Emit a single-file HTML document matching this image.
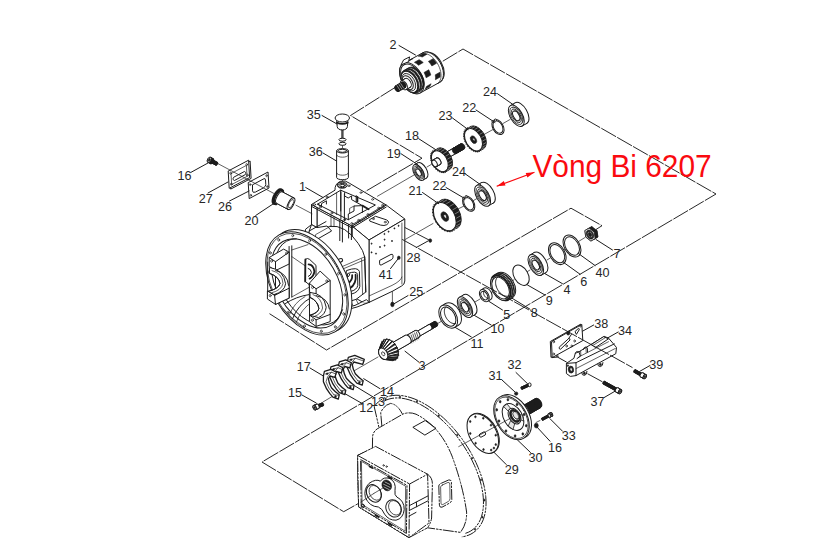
<!DOCTYPE html>
<html lang="vi">
<head>
<meta charset="utf-8">
<title>Vòng Bi 6207</title>
<style>
html,body{margin:0;padding:0;background:#fff}
body{width:831px;height:554px;overflow:hidden;font-family:"Liberation Sans",sans-serif}
svg{display:block}
.l{fill:none;stroke:#1c1c1c;stroke-width:1;stroke-linecap:round;stroke-linejoin:round}
.t{fill:none;stroke:#1c1c1c;stroke-width:.7;stroke-linecap:round;stroke-linejoin:round}
.w{fill:#fff;stroke:#1c1c1c;stroke-width:1;stroke-linejoin:round}
.w2{fill:#fff;stroke:#1c1c1c;stroke-width:1.3;stroke-linejoin:round}
.wt{fill:#fff;stroke:#1c1c1c;stroke-width:.7;stroke-linejoin:round}
.g{fill:#e6e6e6;stroke:#1c1c1c;stroke-width:.8;stroke-linejoin:round}
.nos{stroke:none}
.k{fill:#1c1c1c;stroke:#1c1c1c;stroke-width:.6;stroke-linejoin:round}
.b{fill:none;stroke:#1c1c1c;stroke-width:1.8;stroke-linecap:round;stroke-linejoin:round}
.bb{fill:none;stroke:#1c1c1c;stroke-width:2.6;stroke-linecap:butt}
.d{fill:none;stroke:#1c1c1c;stroke-width:.95;stroke-dasharray:17 1.3}
.p{fill:none;stroke:#1c1c1c;stroke-width:1;stroke-dasharray:11 1 2.4 1 2.4 1;stroke-linejoin:round}
.pw{fill:#fff;stroke:#1c1c1c;stroke-width:1;stroke-dasharray:11 1 2.4 1 2.4 1;stroke-linejoin:round}
.n{font-family:"Liberation Sans",sans-serif;font-size:12.6px;fill:#262626;text-anchor:middle}
.r{fill:none;stroke:#fa0a0f;stroke-width:1.2}
.rf{fill:#fa0a0f;stroke:none}
.rt{font-family:"Liberation Sans",sans-serif;font-size:29.85px;fill:#fa0a0f}
</style>
</head>
<body>
<svg width="831" height="554" viewBox="0 0 831 554">
<rect x="0" y="0" width="831" height="554" fill="#fff"/>
<path class="d" d="M442.8 61.2 L463 49 L716 194 L262 462 L343.7 511.7 L361 502"/>
<path class="d" d="M395 87.5 L350.5 115.5 L422 158.2 L365.3 191.5"/>
<path class="d" d="M269.5 313.7 L326.5 350 L571 208.2 L602 225.7 L596 229.5"/>
<line class="d" x1="587.5" y1="373.7" x2="603.7" y2="382.5"/>
<line class="d" x1="400" y1="225" x2="430" y2="240.5"/>
<line class="t" x1="377.5" y1="196.2" x2="414" y2="175"/>
<line class="t" x1="427" y1="167" x2="432" y2="164"/>
<line class="t" x1="484" y1="134.5" x2="493" y2="129.5"/>
<line class="t" x1="503" y1="123.5" x2="510" y2="119.5"/>
<line class="t" x1="403.4" y1="240.5" x2="433" y2="223.5"/>
<line class="t" x1="457" y1="209.5" x2="464" y2="206"/>
<line class="t" x1="473.5" y1="200.5" x2="477" y2="198.5"/>
<line class="t" x1="342.5" y1="128" x2="342.5" y2="186"/>
<line class="t" x1="437" y1="324" x2="441" y2="321.5"/>
<line class="t" x1="457" y1="312.5" x2="461" y2="310.2"/>
<line class="t" x1="475" y1="302" x2="480" y2="299"/>
<line class="t" x1="489" y1="294" x2="493" y2="291.5"/>
<line class="t" x1="512" y1="281" x2="514" y2="279.8"/>
<line class="t" x1="527.5" y1="271.5" x2="530" y2="270"/>
<line class="t" x1="547" y1="260" x2="550" y2="258.2"/>
<line class="t" x1="564" y1="250" x2="565.5" y2="249"/>
<line class="t" x1="578.5" y1="241.5" x2="585" y2="237.5"/>
<line class="t" x1="378" y1="357" x2="352" y2="372"/>
<line class="t" x1="333" y1="396" x2="323" y2="402"/>
<line class="t" x1="540" y1="420.5" x2="536" y2="422.5"/>
<line class="t" x1="392.4" y1="289.7" x2="392.4" y2="302.5"/>
<path class="w nos" d="M375.4 407.8 L379.6 427.6 L372.4 436 L372.2 448 L400 470 L470 533 L461.82 536.89 L461.82 536.89 L465.06 536.29 L468.11 535.35 L470.96 534.08 L473.6 532.47 L476.01 530.54 L478.19 528.3 L480.12 525.75 L481.78 522.91 L483.19 519.8 L484.32 516.43 L485.17 512.81 L485.74 508.97 L486.02 504.91 L486.02 500.67 L485.73 496.26 L485.16 491.7 L484.3 487.02 L483.16 482.24 L481.76 477.38 L480.08 472.46 L478.15 467.52 L475.97 462.57 L473.56 457.63 L470.91 452.74 L468.06 447.91 L465 443.18 L461.77 438.55 L458.36 434.06 L454.8 429.73 L451.11 425.57 L447.3 421.61 L443.39 417.87 L439.4 414.36 L435.35 411.11 L431.27 408.12 L427.16 405.42 L423.06 403.02 L418.97 400.92 L414.93 399.14 L410.94 397.69 L407.04 396.57 L403.23 395.79 L399.54 395.35 L395.98 395.26 L392.58 395.51 L389.34 396.11 L386.29 397.05 L383.44 398.32 L380.8 399.93 L378.39 401.86 L376.21 404.1 L374.28 406.65 Z"/>
<path class="p" d="M374.28 406.65 L376.21 404.1 L378.39 401.86 L380.8 399.93 L383.44 398.32 L386.29 397.05 L389.34 396.11 L392.58 395.51 L395.98 395.26 L399.54 395.35 L403.23 395.79 L407.04 396.57 L410.94 397.69 L414.93 399.14 L418.97 400.92 L423.06 403.02 L427.16 405.42 L431.27 408.12 L435.35 411.11 L439.4 414.36 L443.39 417.87 L447.3 421.61 L451.11 425.57 L454.8 429.73 L458.36 434.06 L461.77 438.55 L465 443.18 L468.06 447.91 L470.91 452.74 L473.56 457.63 L475.97 462.57 L478.15 467.52 L480.08 472.46 L481.76 477.38 L483.16 482.24 L484.3 487.02 L485.16 491.7 L485.73 496.26 L486.02 500.67 L486.02 504.91 L485.74 508.97 L485.17 512.81 L484.32 516.43 L483.19 519.8 L481.78 522.91 L480.12 525.75 L478.19 528.3 L476.01 530.54 L473.6 532.47 L470.96 534.08 L468.11 535.35 L465.06 536.29 L461.82 536.89"/>
<path class="p" d="M383.62 401.43 L386.21 400.08 L389 399.05 L391.98 398.35 L395.13 397.98 L398.43 397.94 L401.88 398.24 L405.44 398.86 L409.12 399.82 L412.88 401.1 L416.71 402.69 L420.59 404.59 L424.51 406.8 L428.44 409.29 L432.36 412.06 L436.26 415.1 L440.11 418.38 L443.9 421.9 L447.61 425.63 L451.22 429.56 L454.71 433.67 L458.07 437.93 L461.28 442.34 L464.32 446.86 L467.18 451.48 L469.85 456.16 L472.3 460.9 L474.54 465.66 L476.55 470.42 L478.32 475.17 L479.84 479.87 L481.1 484.5 L482.1 489.04 L482.83 493.48 L483.29 497.78 L483.48 501.92 L483.39 505.9 L483.03 509.67 L482.4 513.24 L481.5 516.58 L480.33 519.67 L478.91 522.5 L477.23 525.06 L475.31 527.33 L473.16 529.3 L470.78 530.97 L468.19 532.32 L465.4 533.35"/>
<ellipse class="k" cx="385.68" cy="399.12" rx="0.7" ry="0.9"/>
<ellipse class="k" cx="399.93" cy="396.97" rx="0.7" ry="0.9"/>
<ellipse class="k" cx="416.85" cy="401.6" rx="0.7" ry="0.9"/>
<ellipse class="k" cx="438.72" cy="415.75" rx="0.7" ry="0.9"/>
<ellipse class="k" cx="457.24" cy="435.06" rx="0.7" ry="0.9"/>
<ellipse class="k" cx="472.13" cy="458.13" rx="0.7" ry="0.9"/>
<ellipse class="k" cx="480.94" cy="479.81" rx="0.7" ry="0.9"/>
<ellipse class="k" cx="484.48" cy="500.16" rx="0.7" ry="0.9"/>
<ellipse class="k" cx="482.42" cy="517.18" rx="0.7" ry="0.9"/>
<ellipse class="k" cx="474.96" cy="529.21" rx="0.7" ry="0.9"/>
<path class="p" d="M374.2 406.6 L378.9 427.1 M381.9 426.5 L380.7 412.7 Q384 405 390.6 403.4 Q397.6 404.4 402.3 413.9"/>
<path class="pw" d="M372.4 448.4 L372.6 436.4 Q373.4 430.4 379.4 427.6 L403 414 Q409.6 411.6 416 414.2 Q440 426 452 456 Q463 486 466.6 512 Q467 524 460.4 532.4 L427.6 527.8 L409 537.6 L358.6 506.8 L357.6 455.4 Z"/>
<path class="l" d="M413.2 427.1 L425.2 420.5 L436 428.3 L425.2 434.9 Z"/>
<path class="p" d="M441.4 483.2 L448.6 480 Q451.2 479.4 451.4 482 L451.8 499.6 Q451.6 502 449.4 503.2 L442 507.2 Q439.6 507.8 439.4 505.2 L438.8 486 Q439 484 441.4 483.2 Z"/>
<path class="t" d="M442.4 485 L448 482.4 Q449.6 482.2 449.8 484 L450 498.8 Q449.8 500.6 448.4 501.4 L442.8 504.6 Q441.2 505 441 503.2 L440.6 487 Q440.8 485.6 442.4 485 Z"/>
<path class="pw" d="M357.6 455.4 L375.6 446.4 L427.6 474.2 L429 523 L409 537.6 L358.6 506.8 Z"/>
<path class="p" d="M409.6 484 L427.6 474.2"/>
<path class="p" d="M427.6 474.2 Q432.4 477.6 432.4 484 L431.6 518 Q431 522.6 427.6 527.8"/>
<path class="pw" d="M357.6 455.4 L409.6 484 L409 537.6 L358.6 506.8 Z"/>
<path class="p" d="M360.6 459.6 L407 485.4 L406.4 533.4 L361.2 505.6 Z"/>
<path class="t" d="M361.8 461.6 L405.6 486.2 L405.2 531.2 L362.4 504.6 Z"/>
<path class="l" d="M409.4 505.6 L427.8 496 M409.4 510.4 L428 500.8 M416.4 502.2 L416.6 506.8 M409.2 516 L416 512.4"/>
<path class="w" d="M369 483.4 Q376 478.4 380.4 481.2 Q383.6 476.4 390 478.6 Q396.4 482 395 490.4 Q394.2 495.2 396.8 497 Q404.4 500.8 404.2 509.6 Q403.2 518.6 396 520.2 Q388.6 520.4 384.6 514.2 Q382.2 508.4 378.4 507 Q369.4 506.6 365.4 497.6 Q363.4 489 369 483.4 Z"/>
<ellipse class="w" cx="373.9" cy="493.4" rx="7" ry="9.2" transform="rotate(-28 373.9 493.4)"/>
<ellipse class="t" cx="375.2" cy="492.8" rx="5.6" ry="7.8" transform="rotate(-28 375.2 492.8)"/>
<ellipse class="w" cx="393.6" cy="508.4" rx="7.4" ry="9" transform="rotate(-28 393.6 508.4)"/>
<ellipse class="t" cx="394.8" cy="507.8" rx="5.8" ry="7.6" transform="rotate(-28 394.8 507.8)"/>
<ellipse class="k" cx="386.8" cy="485.4" rx="4.6" ry="5.6" transform="rotate(-28 386.8 485.4)"/>
<path d="M383.2 484 L390.4 487.6 M383.6 486.8 L389.6 489.8 M384.6 481.8 L390.2 484.6" stroke="#fff" stroke-width=".6" fill="none"/>
<ellipse class="l" cx="362.8" cy="506" rx="1.6" ry="1.9"/>
<ellipse class="t" cx="383.6" cy="465.4" rx="0.7" ry="0.8"/>
<ellipse class="t" cx="386.6" cy="466.6" rx="0.7" ry="0.8"/>
<path class="b" d="M369.6 466.4 L372.4 468 M388.2 476.6 L391.6 478.4 M375.4 515.2 L378.4 517 M388.6 523.4 L391.6 525.2"/>
<line class="t" x1="361" y1="502" x2="373.9" y2="493.4"/>
<line class="t" x1="373.9" y1="493.4" x2="384" y2="487.4"/>
<path class="w" d="M352 226 L386.2 205 L404.8 219 L369 240 Z"/>
<path class="w" d="M369 240 L404.8 219 L404.8 281 Q404.6 284.6 401.6 286 L392.9 291 L369 302.4 Z"/>
<path class="t" d="M401.9 223 L401.9 284"/>
<path class="t" d="M369 296 L392 285.4 Q401 281 401.9 277"/>
<path class="w" d="M352 226 L369 240 L369 302.4 L364 303 L352 296 Z"/>
<path class="w" d="M379.6 260.4 L391 254.4 Q393 253.8 393 255.6 L393 257.4 Q392.8 259 391.2 259.8 L381.2 265 Q379.6 265.4 379.6 263.8 Z"/>
<ellipse class="k" cx="371.6" cy="243.6" rx="0.55" ry="0.7"/>
<ellipse class="k" cx="371.6" cy="252.4" rx="0.55" ry="0.7"/>
<ellipse class="k" cx="376" cy="253.6" rx="0.55" ry="0.7"/>
<ellipse class="k" cx="384.4" cy="234" rx="0.55" ry="0.7"/>
<ellipse class="k" cx="388.6" cy="231.6" rx="0.55" ry="0.7"/>
<ellipse class="k" cx="394.4" cy="228.4" rx="0.55" ry="0.7"/>
<ellipse class="k" cx="398.6" cy="225.8" rx="0.55" ry="0.7"/>
<ellipse class="k" cx="384.6" cy="245.6" rx="0.55" ry="0.7"/>
<ellipse class="k" cx="392" cy="241" rx="0.55" ry="0.7"/>
<ellipse class="k" cx="384.6" cy="239.6" rx="0.55" ry="0.7"/>
<ellipse class="k" cx="380" cy="247" rx="0.55" ry="0.7"/>
<path class="w" d="M369.5 219.7 L375.6 216.3 L386.6 219.9 Q390.4 222.1 386.8 224.7 Q384.2 226.1 380.6 225.1 L369.8 221.1 Z"/>
<ellipse class="t" cx="385.2" cy="222.1" rx="1.1" ry="0.8"/>
<ellipse class="t" cx="373.4" cy="218.9" rx="0.9" ry="0.7"/>
<path class="w" d="M311.5 204.5 L352 226 L352 250 L311.5 232 Z"/>
<path class="l" d="M317 207.4 L317 227.6"/>
<path class="t" d="M331 214.6 L331 229 M334 216.4 L334 231"/>
<path class="w" d="M300 243 L329.5 226.4 Q345 224 358.2 243.4 Q363.6 251 364.7 257 L365.8 292 L356 299.4 L344 303 L330 300 Z"/>
<path class="t" d="M340.8 267.2 L364.7 256.8 M341.4 269.6 L365 259.6"/>
<path class="l" d="M364.7 257 L365.8 292"/>
<path class="t" d="M361.6 259 L362.6 294.5"/>
<ellipse class="w" cx="339.8" cy="260.6" rx="2.9" ry="1.8" transform="rotate(-20 339.8 260.6)"/>
<path class="w" d="M346.4 270.6 Q357.8 266.4 359.4 271.4 L359.8 286.6 Q358.6 292.2 351.6 294 Q344.6 294.4 344.4 288.4 Z"/>
<path class="l" d="M348 273.4 Q356.6 270.4 357.6 274.4 L357.8 285.4 Q356.8 289.8 351.4 291.2 Q346.4 291.4 346.2 286.8 Z"/>
<path class="b" d="M349.6 288.6 Q356.8 284 355.6 274.6"/>
<path class="b" d="M347.6 283.4 Q352.6 280.6 352.2 275.2"/>
<path class="l" d="M347 277.6 Q349.6 276.6 349.8 274.2"/>
<path class="w" d="M344 303 L346.5 307.6 L355 305.4 L366.5 299.6 L369 302.4"/>
<path class="l" d="M346.5 307.6 Q352 309.6 357 307 L369 302.4"/>
<path class="t" d="M350 299.6 L353 305.6 M356 299.4 L358.4 304"/>
<path class="w" d="M311.5 224.6 L311.5 204.5 L317 207.4 L317 227.6 Z"/>
<path class="w" d="M305.6 229.2 Q303.4 234 306.8 237.6 L313 241.6 L331.6 231 L327 226 L317 227.6 L311.5 224.6 Z"/>
<path class="l" d="M306.8 237.6 Q309.8 234.6 309.2 231 L311.5 224.6 M309.2 231 L326 221.6"/>
<path class="t" d="M313 241.6 Q316.6 238.4 315.6 234.6 L331 226"/>
<path class="w" d="M311.5 204.5 L335 190.2 Q334.6 184 340.2 181.4 Q345.8 179.8 349.4 183.2 L386.2 205 L352 226 Z"/>
<path class="l" d="M311.5 206.4 L352 228 L386.2 207"/>
<line class="t" x1="353.2" y1="226.6" x2="352.3" y2="225"/>
<line class="t" x1="355.12" y1="225.43" x2="354.22" y2="223.83"/>
<line class="t" x1="357.04" y1="224.26" x2="356.14" y2="222.66"/>
<line class="t" x1="358.96" y1="223.09" x2="358.06" y2="221.49"/>
<line class="t" x1="360.88" y1="221.92" x2="359.98" y2="220.32"/>
<line class="t" x1="362.8" y1="220.75" x2="361.9" y2="219.15"/>
<line class="t" x1="364.72" y1="219.58" x2="363.82" y2="217.98"/>
<line class="t" x1="366.64" y1="218.41" x2="365.74" y2="216.81"/>
<line class="t" x1="368.56" y1="217.24" x2="367.66" y2="215.64"/>
<line class="t" x1="370.48" y1="216.07" x2="369.58" y2="214.47"/>
<line class="t" x1="372.4" y1="214.9" x2="371.5" y2="213.3"/>
<line class="t" x1="374.32" y1="213.73" x2="373.42" y2="212.13"/>
<line class="t" x1="376.24" y1="212.56" x2="375.34" y2="210.96"/>
<line class="t" x1="378.16" y1="211.39" x2="377.26" y2="209.79"/>
<line class="t" x1="380.08" y1="210.22" x2="379.18" y2="208.62"/>
<line class="t" x1="382" y1="209.05" x2="381.1" y2="207.45"/>
<line class="t" x1="383.92" y1="207.88" x2="383.02" y2="206.28"/>
<path class="t" d="M352.6 224.4 L384.8 204.8"/>
<path class="w" d="M317.5 204.2 L340.7 190.2 L375.4 205 L348.3 219.7 Z"/>
<path class="l" d="M340.7 190.2 L340.7 211 M317.5 204.2 L321.5 206.4 L321.5 203.6 L326.4 200.8 L326.4 204 M344.6 192.6 L344.6 196 L348.2 198 L351.6 196 L351.6 199.6 L356.2 202.2 M356.2 195.6 L356.2 202.2 L362.4 205.6 L362.4 212.4"/>
<path class="l" d="M348.3 219.7 L348.3 214 L354 211 L354 206 L362.4 205.6"/>
<path class="b" d="M362.4 205.6 L368.6 209.2"/>
<path class="b" d="M357.4 196.8 L357.4 201.4"/>
<path class="t" d="M354 206 L349.6 208.4 L349.6 213.4"/>
<path class="l" d="M340.9 192 L340.9 219 M344.4 194 L344.4 220.6"/>
<path class="t" d="M336.6 193 L336.6 214.6"/>
<ellipse class="t" cx="314.6" cy="204.6" rx="1.05" ry="0.8"/>
<ellipse class="t" cx="327" cy="197" rx="1.05" ry="0.8"/>
<ellipse class="t" cx="349" cy="185.8" rx="1.05" ry="0.8"/>
<ellipse class="t" cx="361" cy="192.6" rx="1.05" ry="0.8"/>
<ellipse class="t" cx="372.6" cy="199.4" rx="1.05" ry="0.8"/>
<ellipse class="t" cx="382.6" cy="205.2" rx="1.05" ry="0.8"/>
<ellipse class="t" cx="378.6" cy="208" rx="1.05" ry="0.8"/>
<ellipse class="t" cx="368" cy="214.4" rx="1.05" ry="0.8"/>
<ellipse class="t" cx="358.6" cy="220.2" rx="1.05" ry="0.8"/>
<ellipse class="t" cx="351.8" cy="223.4" rx="1.05" ry="0.8"/>
<ellipse class="t" cx="344.6" cy="219.8" rx="1.05" ry="0.8"/>
<ellipse class="t" cx="331.8" cy="213" rx="1.05" ry="0.8"/>
<ellipse class="t" cx="320.4" cy="207" rx="1.05" ry="0.8"/>
<ellipse class="w" cx="342.2" cy="185.2" rx="4.8" ry="3"/>
<ellipse class="l" cx="342.2" cy="185.2" rx="2.9" ry="1.7"/>
<path class="l" d="M342.4 220.8 L342.4 242 M339.8 219.6 L339.8 240.6 M348.6 224.4 L348.6 238 M351.4 226 L351.4 239.6"/>
<ellipse class="w" cx="310.64" cy="281.3" rx="35" ry="56" transform="rotate(-30 310.64 281.3)"/>
<ellipse class="w" cx="307" cy="283.4" rx="35" ry="56" transform="rotate(-30 307 283.4)"/>
<ellipse class="t" cx="307" cy="283.4" rx="34" ry="54.4" transform="rotate(-30 307 283.4)"/>
<ellipse class="t" cx="338.49" cy="273.58" rx="0.95" ry="1.25"/>
<ellipse class="t" cx="344.84" cy="294.88" rx="0.95" ry="1.25"/>
<ellipse class="t" cx="343.7" cy="313.91" rx="0.95" ry="1.25"/>
<ellipse class="t" cx="335.29" cy="326.9" rx="0.95" ry="1.25"/>
<ellipse class="t" cx="321.28" cy="331.27" rx="0.95" ry="1.25"/>
<ellipse class="t" cx="304.43" cy="326.16" rx="0.95" ry="1.25"/>
<ellipse class="t" cx="288.1" cy="312.58" rx="0.95" ry="1.25"/>
<ellipse class="t" cx="275.51" cy="293.22" rx="0.95" ry="1.25"/>
<ellipse class="t" cx="269.16" cy="271.92" rx="0.95" ry="1.25"/>
<ellipse class="t" cx="270.3" cy="252.89" rx="0.95" ry="1.25"/>
<ellipse class="t" cx="278.71" cy="239.9" rx="0.95" ry="1.25"/>
<ellipse class="t" cx="292.72" cy="235.53" rx="0.95" ry="1.25"/>
<ellipse class="t" cx="309.57" cy="240.64" rx="0.95" ry="1.25"/>
<ellipse class="t" cx="325.9" cy="254.22" rx="0.95" ry="1.25"/>
<ellipse class="w" cx="307" cy="283.4" rx="30.25" ry="48.4" transform="rotate(-30 307 283.4)"/>
<path class="l" d="M342.53 309.69 L340.36 314.78 L337.34 318.96 L333.55 322.1 L329.08 324.12 L324.07 324.96 L318.66 324.6 L312.99 323.05 L307.23 320.35 L301.54 316.58 L296.07 311.84 L290.97 306.26 L286.4 300 L282.48 293.24 L279.31 286.16 L276.99 278.96 L275.58 271.85 L275.11 265.01 L275.61 258.65 L277.06 252.93 L279.42 248.03 L282.62 244.07 L286.57 241.16 L291.16 239.39 L296.27 238.81"/>
<path class="l" d="M289.1 246.5 L289.1 298 M291.8 245.8 L291.8 297"/>
<path class="t" d="M291.8 256.6 L305.4 266 M291.8 250 L308 244.6"/>
<path class="t" d="M291.8 297 L309.6 287"/>
<path class="w" d="M305.4 259.4 Q307.4 257.6 309.6 259.4 L316 265.4 L316 281.6 L309.6 285 L305.2 281.4 Z"/>
<path class="b" d="M305.4 259.4 L305.2 281.4"/>
<path class="b" d="M308.6 264.4 Q313.4 264.6 314.4 271.4 Q313.8 276.6 309.6 278.6"/>
<path class="l" d="M308.2 268.4 Q311 269 311.4 272.4 Q311 275.4 308.4 276.4"/>
<path class="l" d="M285.4 303.5 Q296 296.6 309 294.6"/>
<path class="l" d="M292.6 318.6 Q298 304.6 311 297.6"/>
<path class="t" d="M296.4 322 Q301.4 309 311.4 302.4"/>
<path class="t" d="M289.6 314.4 Q294 302.6 305 296.6"/>
<path class="t" d="M283 308.4 L292.6 318.6 L304.6 327.6"/>
<path class="w" d="M275.5 261.7 L289.1 252.1 L289.1 298.1 L275.5 304.4 Z"/>
<path class="l" d="M267.7 262 L267.7 296"/>
<path class="w" d="M269.2 257.5 L283.6 249.1 L289.1 252.1 L289.1 264 L275.5 270.6 L269.2 266.4 Z"/>
<path class="l" d="M269.2 257.5 L275.5 261.7 L289.1 252.1 M275.5 261.7 L275.5 270.6"/>
<path class="w" d="M269.4 267.4 Q283.6 269.6 285.6 283.7 Q284.6 291.6 274 294.6 L267.4 291.6 Q278.6 289 280 283.6 Q279 276.4 269.6 273.4 Z"/>
<path class="l" d="M275.6 270.4 Q287.4 273.4 288.6 285.4"/>
<path class="l" d="M269.6 273.4 Q279 276.4 280 283.6 Q278.6 289 267.4 291.6"/>
<path class="t" d="M272 270.6 Q282.4 273 283 283.6 Q281.6 290.4 271 293"/>
<path class="w" d="M267.4 290.9 L274.6 295.4 L289.1 288.2 L289.1 298.1 L275.5 304.4 L267.4 299 Z"/>
<path class="l" d="M274.6 295.4 L275.5 304.4"/>
<path class="w" d="M309.3 283.3 L320.1 271.1 L330.2 280.5 L330.2 321.6 L316.1 326.4 L309.6 321.8 Z"/>
<path class="l" d="M309.3 283.3 L316.1 288.8 L330.2 280.5 M316.1 288.8 L316.1 296"/>
<path class="l" d="M309.3 283.3 L309.6 291.6"/>
<path class="w" d="M310 292.4 Q324 293.4 326.2 307.2 Q325.4 314.6 318.6 317.6 L309.8 315.3 Q318 313 318.9 308.6 Q317.9 300.8 310 297.4 Z"/>
<path class="l" d="M316.1 295.6 Q328 298 329.4 309"/>
<path class="l" d="M310 297.4 Q317.9 300.8 318.9 308.6 Q318 313 309.8 315.3"/>
<path class="t" d="M313 294.6 Q321.6 297.4 322.6 308 Q321.4 314 314 316.6"/>
<path class="l" d="M309.8 315.3 L316.1 319.8 L330.2 314.4 M316.1 319.8 L316.1 326.4"/>
<ellipse class="t" cx="271.6" cy="261" rx="1" ry="1.2"/>
<ellipse class="t" cx="270.2" cy="295.6" rx="1" ry="1.2"/>
<ellipse class="t" cx="312.6" cy="287.4" rx="1" ry="1.2"/>
<ellipse class="t" cx="312.4" cy="320.2" rx="1" ry="1.2"/>
<ellipse class="t" cx="286.6" cy="253.2" rx="1" ry="1.2"/>
<ellipse class="t" cx="326.8" cy="281" rx="1" ry="1.2"/>
<g transform="translate(0.6 1.3)">
<ellipse class="w" cx="431.99" cy="65.5" rx="9.72" ry="16.2" transform="rotate(-30 431.99 65.5)"/>
<ellipse class="w" cx="430.6" cy="66.3" rx="10.2" ry="17" transform="rotate(-30 430.6 66.3)"/>
<path class="w" d="M402.7 62.18 L422.1 51.58 L423.76 50.92 L425.63 50.72 L427.66 51 L429.77 51.74 L431.9 52.93 L434 54.52 L435.99 56.47 L437.82 58.72 L439.43 61.2 L440.78 63.83 L441.81 66.54 L442.5 69.24 L442.83 71.86 L442.79 74.3 L442.38 76.5 L441.61 78.39 L440.5 79.91 L439.1 81.02 L419.7 91.62 L418.04 92.28 L416.17 92.48 L414.14 92.2 L412.03 91.46 L409.9 90.27 L407.8 88.68 L405.81 86.73 L403.98 84.48 L402.37 82 L401.02 79.37 L399.99 76.66 L399.3 73.96 L398.97 71.34 L399.01 68.9 L399.42 66.7 L400.19 64.81 L401.3 63.29 L402.7 62.18 Z"/>
<path class="t" d="M420.5 52.49 L421.74 52.14 L423.07 52.02 L424.48 52.14 L425.95 52.5 L427.46 53.08 L428.97 53.89 L430.47 54.91 L431.94 56.12 L433.35 57.51 L434.68 59.05 L435.92 60.72 L437.03 62.5 L438.01 64.35 L438.85 66.26 L439.51 68.18 L440.01 70.1 L440.32 71.98 L440.46 73.79 L440.4 75.5 L440.16 77.1 L439.73 78.55 L439.13 79.83 L438.36 80.93 L437.44 81.82"/>
<path class="k" d="M417.63 54.85 L419.59 55.03 L421.65 55.67 L426.33 52.97 L424.27 52.33 L422.31 52.15 Z"/>
<path class="k" d="M427.81 60.09 L429.64 62.24 L431.27 64.64 L435.95 61.94 L434.32 59.54 L432.49 57.39 Z"/>
<path class="k" d="M434.68 73.57 L434.93 76.1 L434.81 78.46 L439.49 75.76 L439.6 73.4 L439.35 70.87 Z"/>
<path class="k" d="M404.75 61.53 L406.19 60.52 L407.87 59.96 L412.54 57.26 L410.87 57.82 L409.43 58.83 Z"/>
<path class="k" d="M413.83 61.05 L415.93 62.3 L417.97 63.94 L422.65 61.24 L420.6 59.6 L418.51 58.35 Z"/>
<path class="k" d="M423.47 71.16 L424.67 73.79 L425.55 76.46 L430.23 73.76 L429.35 71.09 L428.15 68.46 Z"/>
<path class="k" d="M425.8 85.17 L425.14 86.86 L424.2 88.25 L428.88 85.55 L429.81 84.16 L430.48 82.47 Z"/>
<ellipse class="w" cx="411.2" cy="76.9" rx="10.2" ry="17" transform="rotate(-30 411.2 76.9)"/>
<ellipse class="l" cx="411.2" cy="76.9" rx="9.3" ry="15.5" transform="rotate(-30 411.2 76.9)"/>
<ellipse class="k" cx="414.6" cy="77.2" rx="7.56" ry="12.6" transform="rotate(-30 414.6 77.2)"/>
<ellipse class="w" cx="413.3" cy="77.95" rx="7.56" ry="12.6" transform="rotate(-30 413.3 77.95)"/>
<ellipse class="k" cx="412" cy="78.7" rx="7.56" ry="12.6" transform="rotate(-30 412 78.7)"/>
<ellipse class="w" cx="410.7" cy="79.45" rx="7.56" ry="12.6" transform="rotate(-30 410.7 79.45)"/>
<ellipse class="k" cx="409.4" cy="80.2" rx="7.56" ry="12.6" transform="rotate(-30 409.4 80.2)"/>
<ellipse class="w" cx="408.8" cy="80.5" rx="6.96" ry="11.6" transform="rotate(-30 408.8 80.5)"/>
<ellipse class="g" cx="408.2" cy="80.9" rx="5.76" ry="9.6" transform="rotate(-30 408.2 80.9)"/>
<ellipse class="w" cx="407.2" cy="81.4" rx="4.56" ry="7.6" transform="rotate(-30 407.2 81.4)"/>
<path class="w" d="M405.7 88.23 L409.6 85.98 L404.6 77.32 L400.7 79.57 Z"/>
<ellipse class="w" cx="407.1" cy="81.65" rx="3" ry="5" transform="rotate(-30 407.1 81.65)"/>
<path class="w nos" d="M405.7 88.23 L409.6 85.98 L404.6 77.32 L400.7 79.57 Z"/>
<ellipse class="w" cx="403.2" cy="83.9" rx="3" ry="5" transform="rotate(-30 403.2 83.9)"/>
<line class="l" x1="405.7" y1="88.23" x2="409.6" y2="85.98"/>
<line class="l" x1="400.7" y1="79.57" x2="404.6" y2="77.32"/>
<path class="k" d="M397.95 90.08 L404.88 86.08 L401.78 80.72 L394.85 84.72 Z"/>
<ellipse class="k" cx="403.33" cy="83.4" rx="1.86" ry="3.1" transform="rotate(-30 403.33 83.4)"/>
<path class="k nos" d="M397.95 90.08 L404.88 86.08 L401.78 80.72 L394.85 84.72 Z"/>
<ellipse class="k" cx="396.4" cy="87.4" rx="1.86" ry="3.1" transform="rotate(-30 396.4 87.4)"/>
<line class="l" x1="397.95" y1="90.08" x2="404.88" y2="86.08"/>
<line class="l" x1="394.85" y1="84.72" x2="401.78" y2="80.72"/>
<ellipse class="k" cx="396.4" cy="87.4" rx="1.86" ry="3.1" transform="rotate(-30 396.4 87.4)"/>
<path d="M399.55 89.11 L396.3 84.1" stroke="#fff" stroke-width=".5" fill="none"/>
<path d="M401.46 88.01 L398.2 83" stroke="#fff" stroke-width=".5" fill="none"/>
<path d="M403.19 87.01 L399.94 82" stroke="#fff" stroke-width=".5" fill="none"/>
<path class="w" d="M400.4 63.6 L403 58.6 L409 55.6 L408 60.4 Z"/>
</g>
<ellipse class="w" cx="422.06" cy="170.5" rx="4.58" ry="8.8" transform="rotate(-30 422.06 170.5)"/>
<path class="w nos" d="M423 180.12 L426.46 178.12 L417.66 162.88 L414.2 164.88 Z"/>
<line class="l" x1="423" y1="180.12" x2="426.46" y2="178.12"/>
<line class="l" x1="414.2" y1="164.88" x2="417.66" y2="162.88"/>
<ellipse class="w" cx="418.6" cy="172.5" rx="4.58" ry="8.8" transform="rotate(-30 418.6 172.5)"/>
<ellipse class="t" cx="418.6" cy="172.5" rx="3.75" ry="7.22" transform="rotate(-30 418.6 172.5)"/>
<ellipse class="g" cx="418.6" cy="172.5" rx="2.93" ry="5.63" transform="rotate(-30 418.6 172.5)"/>
<ellipse class="w" cx="418.6" cy="172.5" rx="2.1" ry="4.05" transform="rotate(-30 418.6 172.5)"/>
<path class="t" d="M417.39 169.21 L417.59 169.03 L417.84 168.92 L418.11 168.87 L418.41 168.89 L418.73 168.97 L419.07 169.13 L419.41 169.34 L419.76 169.61 L420.09 169.93 L420.41 170.3 L420.71 170.7 L420.99 171.13 L421.22 171.59 L421.42 172.05 L421.58 172.51 L421.69 172.96 L421.75 173.39 L421.77 173.8 L421.73 174.16 L421.64 174.49 L421.51 174.76 L421.33 174.97 L421.11 175.12 L420.86 175.21"/>
<path class="t" d="M415.91 166.38 L416.31 166.13 L416.78 165.98 L417.3 165.96 L417.86 166.04 L418.46 166.24 L419.07 166.55 L419.69 166.97 L420.31 167.48 L420.91 168.08 L421.49 168.75 L422.02 169.48 L422.51 170.26 L422.94 171.08 L423.31 171.91 L423.6 172.74 L423.82 173.56 L423.95 174.35 L424 175.1 L423.96 175.78 L423.84 176.4 L423.63 176.93 L423.35 177.36 L422.99 177.7 L422.57 177.92"/>
<ellipse class="w" cx="521.06" cy="113.05" rx="6.14" ry="11.8" transform="rotate(-30 521.06 113.05)"/>
<path class="w nos" d="M522.2 126.02 L526.96 123.27 L515.16 102.83 L510.4 105.58 Z"/>
<line class="l" x1="522.2" y1="126.02" x2="526.96" y2="123.27"/>
<line class="l" x1="510.4" y1="105.58" x2="515.16" y2="102.83"/>
<ellipse class="w" cx="516.3" cy="115.8" rx="6.14" ry="11.8" transform="rotate(-30 516.3 115.8)"/>
<ellipse class="t" cx="516.3" cy="115.8" rx="5.03" ry="9.68" transform="rotate(-30 516.3 115.8)"/>
<ellipse class="g" cx="516.3" cy="115.8" rx="3.93" ry="7.55" transform="rotate(-30 516.3 115.8)"/>
<ellipse class="w" cx="516.3" cy="115.8" rx="2.82" ry="5.43" transform="rotate(-30 516.3 115.8)"/>
<path class="t" d="M514.41 111.54 L514.68 111.3 L515 111.15 L515.37 111.08 L515.77 111.11 L516.21 111.23 L516.66 111.43 L517.12 111.72 L517.58 112.08 L518.03 112.51 L518.46 113 L518.86 113.54 L519.23 114.12 L519.55 114.73 L519.81 115.35 L520.02 115.97 L520.17 116.57 L520.26 117.15 L520.27 117.69 L520.22 118.18 L520.11 118.62 L519.93 118.98 L519.69 119.27 L519.4 119.47 L519.06 119.59"/>
<path class="t" d="M512.38 107.77 L512.93 107.42 L513.55 107.23 L514.25 107.2 L515.01 107.31 L515.8 107.58 L516.62 108 L517.46 108.55 L518.28 109.24 L519.09 110.04 L519.86 110.94 L520.58 111.92 L521.24 112.97 L521.82 114.06 L522.31 115.18 L522.7 116.29 L522.99 117.39 L523.17 118.45 L523.23 119.45 L523.18 120.37 L523.02 121.19 L522.74 121.9 L522.36 122.49 L521.88 122.94 L521.31 123.24"/>
<ellipse class="w" cx="498" cy="127" rx="5.25" ry="8.2" transform="rotate(-30 498 127)"/>
<ellipse class="w" cx="498" cy="127" rx="4.29" ry="6.7" transform="rotate(-30 498 127)"/>
<circle cx="494.25" cy="120.5" r="1.6" fill="#fff"/>
<circle class="w" cx="495.45" cy="120.1" r="1.1"/>
<circle class="w" cx="493.15" cy="121.56" r="1.1"/>
<path class="k" d="M468.97 127.54 L470.12 126.64 L471.47 126.09 L472.97 125.9 L474.59 126.07 L476.27 126.6 L477.96 127.48 L479.61 128.67 L481.17 130.14 L482.58 131.85 L483.82 133.74 L484.84 135.76 L485.61 137.84 L486.11 139.93 L486.32 141.95 L486.23 143.85 L485.85 145.57 L485.19 147.06 L484.27 148.26 L483.12 149.16 L481.77 149.71 L478.65 151.51 L477.14 151.7 L475.53 151.53 L473.85 151 L472.16 150.12 L470.51 148.93 L468.95 147.46 L467.53 145.75 L466.29 143.86 L465.28 141.84 L464.51 139.76 L464.01 137.67 L463.8 135.65 L463.89 133.75 L464.27 132.03 L464.93 130.54 L465.85 129.34 Z"/>
<ellipse class="k" cx="476.62" cy="137.9" rx="8.19" ry="12.8" transform="rotate(-30 476.62 137.9)"/>
<line class="l" x1="480.93" y1="135.41" x2="480.21" y2="135.83"/>
<line class="l" x1="482.16" y1="137.92" x2="481.32" y2="138.09"/>
<line class="l" x1="483.01" y1="140.5" x2="482.09" y2="140.42"/>
<line class="l" x1="483.45" y1="143.05" x2="482.48" y2="142.73"/>
<line class="l" x1="483.45" y1="145.45" x2="482.48" y2="144.9"/>
<line class="l" x1="483.02" y1="147.61" x2="482.09" y2="146.84"/>
<line class="l" x1="482.17" y1="149.41" x2="481.33" y2="148.47"/>
<line class="l" x1="480.94" y1="150.79" x2="480.22" y2="149.72"/>
<line class="l" x1="479.39" y1="151.69" x2="478.82" y2="150.53"/>
<line class="l" x1="477.58" y1="152.06" x2="477.18" y2="150.86"/>
<line class="l" x1="475.59" y1="151.89" x2="475.39" y2="150.71"/>
<line class="l" x1="473.51" y1="151.19" x2="473.51" y2="150.08"/>
<line class="l" x1="471.43" y1="149.99" x2="471.63" y2="148.99"/>
<line class="l" x1="469.44" y1="148.34" x2="469.83" y2="147.5"/>
<line class="l" x1="467.63" y1="146.31" x2="468.2" y2="145.67"/>
<line class="l" x1="466.07" y1="143.99" x2="466.79" y2="143.57"/>
<line class="l" x1="464.84" y1="141.48" x2="465.68" y2="141.31"/>
<line class="l" x1="463.99" y1="138.9" x2="464.91" y2="138.98"/>
<line class="l" x1="463.55" y1="136.35" x2="464.52" y2="136.67"/>
<line class="l" x1="463.55" y1="133.95" x2="464.52" y2="134.5"/>
<line class="l" x1="463.98" y1="131.79" x2="464.91" y2="132.56"/>
<line class="l" x1="464.83" y1="129.99" x2="465.67" y2="130.93"/>
<line class="l" x1="466.06" y1="128.61" x2="466.78" y2="129.68"/>
<line class="l" x1="467.61" y1="127.71" x2="468.18" y2="128.87"/>
<line class="l" x1="469.42" y1="127.34" x2="469.82" y2="128.54"/>
<line class="l" x1="471.41" y1="127.51" x2="471.61" y2="128.69"/>
<line class="l" x1="473.49" y1="128.21" x2="473.49" y2="129.32"/>
<line class="l" x1="475.57" y1="129.41" x2="475.37" y2="130.41"/>
<line class="l" x1="477.56" y1="131.06" x2="477.17" y2="131.9"/>
<line class="l" x1="479.37" y1="133.09" x2="478.8" y2="133.73"/>
<ellipse class="w" cx="473.5" cy="139.7" rx="7.74" ry="12.1" transform="rotate(-30 473.5 139.7)"/>
<line x1="469.22" y1="128.12" x2="472.34" y2="126.32" stroke="#fff" stroke-width=".4"/>
<line x1="471.86" y1="128.31" x2="474.98" y2="126.51" stroke="#fff" stroke-width=".4"/>
<line x1="474.64" y1="129.5" x2="477.76" y2="127.7" stroke="#fff" stroke-width=".4"/>
<line x1="477.32" y1="131.58" x2="480.44" y2="129.78" stroke="#fff" stroke-width=".4"/>
<line x1="479.66" y1="134.37" x2="482.78" y2="132.57" stroke="#fff" stroke-width=".4"/>
<line x1="481.47" y1="137.62" x2="484.59" y2="135.82" stroke="#fff" stroke-width=".4"/>
<line x1="482.58" y1="141.06" x2="485.7" y2="139.26" stroke="#fff" stroke-width=".4"/>
<line x1="482.9" y1="144.38" x2="486.02" y2="142.58" stroke="#fff" stroke-width=".4"/>
<line x1="482.4" y1="147.29" x2="485.51" y2="145.49" stroke="#fff" stroke-width=".4"/>
<line x1="481.11" y1="149.54" x2="484.23" y2="147.74" stroke="#fff" stroke-width=".4"/>
<ellipse class="k" cx="473.5" cy="139.7" rx="2.62" ry="4.09" transform="rotate(-30 473.5 139.7)"/>
<ellipse class="g" cx="473.9" cy="139.5" rx="1.05" ry="1.64" transform="rotate(-30 473.9 139.5)"/>
<path class="w" d="M446.45 158.91 L462.9 149.41 L460 144.39 L443.55 153.89 Z"/>
<ellipse class="w" cx="461.45" cy="146.9" rx="1.86" ry="2.9" transform="rotate(-30 461.45 146.9)"/>
<path class="w nos" d="M446.45 158.91 L462.9 149.41 L460 144.39 L443.55 153.89 Z"/>
<ellipse class="w" cx="445" cy="156.4" rx="1.86" ry="2.9" transform="rotate(-30 445 156.4)"/>
<line class="l" x1="446.45" y1="158.91" x2="462.9" y2="149.41"/>
<line class="l" x1="443.55" y1="153.89" x2="460" y2="144.39"/>
<path class="k" d="M456 153.6 L464.23 148.85 L461.23 143.65 L453 148.4 Z"/>
<ellipse class="k" cx="462.73" cy="146.25" rx="1.92" ry="3" transform="rotate(-30 462.73 146.25)"/>
<path class="k nos" d="M456 153.6 L464.23 148.85 L461.23 143.65 L453 148.4 Z"/>
<ellipse class="k" cx="454.5" cy="151" rx="1.92" ry="3" transform="rotate(-30 454.5 151)"/>
<line class="l" x1="456" y1="153.6" x2="464.23" y2="148.85"/>
<line class="l" x1="453" y1="148.4" x2="461.23" y2="143.65"/>
<path class="k" d="M436.26 149.37 L437.34 148.53 L438.6 148.02 L440.02 147.84 L441.54 148 L443.11 148.5 L444.7 149.32 L446.24 150.44 L447.71 151.82 L449.04 153.42 L450.2 155.2 L451.16 157.09 L451.88 159.05 L452.34 161 L452.54 162.9 L452.46 164.68 L452.1 166.3 L451.48 167.69 L450.62 168.83 L449.54 169.67 L448.27 170.18 L444.63 172.28 L443.22 172.46 L441.7 172.3 L440.13 171.8 L438.54 170.98 L436.99 169.86 L435.53 168.48 L434.2 166.88 L433.04 165.1 L432.08 163.21 L431.36 161.25 L430.89 159.3 L430.7 157.4 L430.78 155.62 L431.14 154 L431.76 152.61 L432.62 151.47 Z"/>
<ellipse class="k" cx="443.44" cy="159.1" rx="7.68" ry="12" transform="rotate(-30 443.44 159.1)"/>
<line class="l" x1="446.78" y1="157.17" x2="446.06" y2="157.58"/>
<line class="l" x1="447.94" y1="159.52" x2="447.1" y2="159.7"/>
<line class="l" x1="448.74" y1="161.95" x2="447.82" y2="161.88"/>
<line class="l" x1="449.15" y1="164.35" x2="448.19" y2="164.03"/>
<line class="l" x1="449.15" y1="166.61" x2="448.19" y2="166.05"/>
<line class="l" x1="448.75" y1="168.63" x2="447.82" y2="167.87"/>
<line class="l" x1="447.95" y1="170.33" x2="447.11" y2="169.39"/>
<line class="l" x1="446.8" y1="171.63" x2="446.07" y2="170.55"/>
<line class="l" x1="445.34" y1="172.47" x2="444.76" y2="171.31"/>
<line class="l" x1="443.63" y1="172.82" x2="443.24" y2="171.62"/>
<line class="l" x1="441.76" y1="172.67" x2="441.56" y2="171.48"/>
<line class="l" x1="439.81" y1="172.01" x2="439.81" y2="170.89"/>
<line class="l" x1="437.85" y1="170.88" x2="438.05" y2="169.88"/>
<line class="l" x1="435.98" y1="169.32" x2="436.38" y2="168.48"/>
<line class="l" x1="434.28" y1="167.41" x2="434.85" y2="166.77"/>
<line class="l" x1="432.82" y1="165.23" x2="433.54" y2="164.82"/>
<line class="l" x1="431.66" y1="162.88" x2="432.5" y2="162.7"/>
<line class="l" x1="430.86" y1="160.45" x2="431.78" y2="160.52"/>
<line class="l" x1="430.45" y1="158.05" x2="431.41" y2="158.37"/>
<line class="l" x1="430.45" y1="155.79" x2="431.41" y2="156.35"/>
<line class="l" x1="430.85" y1="153.77" x2="431.78" y2="154.53"/>
<line class="l" x1="431.65" y1="152.07" x2="432.49" y2="153.01"/>
<line class="l" x1="432.8" y1="150.77" x2="433.53" y2="151.85"/>
<line class="l" x1="434.26" y1="149.93" x2="434.84" y2="151.09"/>
<line class="l" x1="435.97" y1="149.58" x2="436.36" y2="150.78"/>
<line class="l" x1="437.84" y1="149.73" x2="438.04" y2="150.92"/>
<line class="l" x1="439.79" y1="150.39" x2="439.79" y2="151.51"/>
<line class="l" x1="441.75" y1="151.52" x2="441.55" y2="152.52"/>
<line class="l" x1="443.62" y1="153.08" x2="443.22" y2="153.92"/>
<line class="l" x1="445.32" y1="154.99" x2="444.75" y2="155.63"/>
<ellipse class="w" cx="439.8" cy="161.2" rx="7.23" ry="11.3" transform="rotate(-30 439.8 161.2)"/>
<line x1="435.79" y1="150.35" x2="439.43" y2="148.25" stroke="#fff" stroke-width=".4"/>
<line x1="438.26" y1="150.53" x2="441.9" y2="148.43" stroke="#fff" stroke-width=".4"/>
<line x1="440.87" y1="151.65" x2="444.5" y2="149.55" stroke="#fff" stroke-width=".4"/>
<line x1="443.38" y1="153.59" x2="447.01" y2="151.49" stroke="#fff" stroke-width=".4"/>
<line x1="445.57" y1="156.21" x2="449.21" y2="154.11" stroke="#fff" stroke-width=".4"/>
<line x1="447.27" y1="159.26" x2="450.9" y2="157.16" stroke="#fff" stroke-width=".4"/>
<line x1="448.31" y1="162.47" x2="451.94" y2="160.37" stroke="#fff" stroke-width=".4"/>
<line x1="448.6" y1="165.58" x2="452.24" y2="163.48" stroke="#fff" stroke-width=".4"/>
<line x1="448.13" y1="168.31" x2="451.77" y2="166.21" stroke="#fff" stroke-width=".4"/>
<line x1="446.93" y1="170.41" x2="450.57" y2="168.31" stroke="#fff" stroke-width=".4"/>
<path class="w" d="M436.4 166.52 L440.04 164.42 L436.44 158.18 L432.8 160.28 Z"/>
<ellipse class="w" cx="434.6" cy="163.4" rx="2.3" ry="3.6" transform="rotate(-30 434.6 163.4)"/>
<path class="w nos" d="M436.4 166.52 L440.04 164.42 L436.44 158.18 L432.8 160.28 Z"/>
<ellipse class="w" cx="438.24" cy="161.3" rx="2.3" ry="3.6" transform="rotate(-30 438.24 161.3)"/>
<line class="l" x1="436.4" y1="166.52" x2="440.04" y2="164.42"/>
<line class="l" x1="432.8" y1="160.28" x2="436.44" y2="158.18"/>
<path class="w" d="M436.4 166.52 L440.04 164.42 L436.44 158.18 L432.8 160.28 Z"/>
<ellipse class="w" cx="438.24" cy="161.3" rx="2.3" ry="3.6" transform="rotate(-30 438.24 161.3)"/>
<path class="w nos" d="M436.4 166.52 L440.04 164.42 L436.44 158.18 L432.8 160.28 Z"/>
<ellipse class="w" cx="434.6" cy="163.4" rx="2.3" ry="3.6" transform="rotate(-30 434.6 163.4)"/>
<line class="l" x1="436.4" y1="166.52" x2="440.04" y2="164.42"/>
<line class="l" x1="432.8" y1="160.28" x2="436.44" y2="158.18"/>
<ellipse class="w" cx="487.36" cy="192.85" rx="6.14" ry="11.8" transform="rotate(-30 487.36 192.85)"/>
<path class="w nos" d="M488.5 205.82 L493.26 203.07 L481.46 182.63 L476.7 185.38 Z"/>
<line class="l" x1="488.5" y1="205.82" x2="493.26" y2="203.07"/>
<line class="l" x1="476.7" y1="185.38" x2="481.46" y2="182.63"/>
<ellipse class="w" cx="482.6" cy="195.6" rx="6.14" ry="11.8" transform="rotate(-30 482.6 195.6)"/>
<ellipse class="t" cx="482.6" cy="195.6" rx="5.03" ry="9.68" transform="rotate(-30 482.6 195.6)"/>
<ellipse class="g" cx="482.6" cy="195.6" rx="3.93" ry="7.55" transform="rotate(-30 482.6 195.6)"/>
<ellipse class="w" cx="482.6" cy="195.6" rx="2.82" ry="5.43" transform="rotate(-30 482.6 195.6)"/>
<path class="t" d="M480.71 191.34 L480.98 191.1 L481.3 190.95 L481.67 190.88 L482.07 190.91 L482.51 191.03 L482.96 191.23 L483.42 191.52 L483.88 191.88 L484.33 192.31 L484.76 192.8 L485.16 193.34 L485.53 193.92 L485.85 194.53 L486.11 195.15 L486.32 195.77 L486.47 196.37 L486.56 196.95 L486.57 197.49 L486.52 197.98 L486.41 198.42 L486.23 198.78 L485.99 199.07 L485.7 199.27 L485.36 199.39"/>
<path class="t" d="M478.68 187.57 L479.23 187.22 L479.85 187.03 L480.55 187 L481.31 187.11 L482.1 187.38 L482.92 187.8 L483.76 188.35 L484.58 189.04 L485.39 189.84 L486.16 190.74 L486.88 191.72 L487.54 192.77 L488.12 193.86 L488.61 194.98 L489 196.09 L489.29 197.19 L489.47 198.25 L489.53 199.25 L489.48 200.17 L489.32 200.99 L489.04 201.7 L488.66 202.29 L488.18 202.74 L487.61 203.04"/>
<ellipse class="w" cx="468.7" cy="203.7" rx="5.25" ry="8.2" transform="rotate(-30 468.7 203.7)"/>
<ellipse class="w" cx="468.7" cy="203.7" rx="4.29" ry="6.7" transform="rotate(-30 468.7 203.7)"/>
<circle cx="464.95" cy="197.2" r="1.6" fill="#fff"/>
<circle class="w" cx="466.15" cy="196.8" r="1.1"/>
<circle class="w" cx="463.85" cy="198.26" r="1.1"/>
<path class="k" d="M439.59 201.18 L441.03 200.07 L442.71 199.38 L444.59 199.14 L446.6 199.36 L448.7 200.02 L450.8 201.11 L452.86 202.6 L454.8 204.43 L456.57 206.56 L458.11 208.92 L459.38 211.43 L460.34 214.03 L460.96 216.63 L461.21 219.15 L461.11 221.52 L460.63 223.66 L459.81 225.51 L458.67 227.02 L457.23 228.13 L455.55 228.82 L451.22 231.32 L449.34 231.56 L447.33 231.34 L445.23 230.68 L443.13 229.59 L441.07 228.1 L439.13 226.27 L437.36 224.14 L435.82 221.78 L434.55 219.27 L433.59 216.67 L432.97 214.07 L432.72 211.55 L432.82 209.18 L433.3 207.04 L434.12 205.19 L435.26 203.68 Z"/>
<ellipse class="k" cx="449.13" cy="214.1" rx="10.24" ry="16" transform="rotate(-30 449.13 214.1)"/>
<line class="l" x1="454" y1="211.29" x2="453.28" y2="211.7"/>
<line class="l" x1="455.53" y1="214.39" x2="454.69" y2="214.57"/>
<line class="l" x1="456.58" y1="217.59" x2="455.66" y2="217.52"/>
<line class="l" x1="457.12" y1="220.75" x2="456.16" y2="220.43"/>
<line class="l" x1="457.12" y1="223.73" x2="456.16" y2="223.17"/>
<line class="l" x1="456.59" y1="226.39" x2="455.67" y2="225.63"/>
<line class="l" x1="455.54" y1="228.63" x2="454.7" y2="227.69"/>
<line class="l" x1="454.02" y1="230.34" x2="453.29" y2="229.27"/>
<line class="l" x1="452.09" y1="231.45" x2="451.52" y2="230.29"/>
<line class="l" x1="449.85" y1="231.91" x2="449.46" y2="230.71"/>
<line class="l" x1="447.39" y1="231.71" x2="447.19" y2="230.52"/>
<line class="l" x1="444.81" y1="230.84" x2="444.81" y2="229.72"/>
<line class="l" x1="442.24" y1="229.35" x2="442.44" y2="228.35"/>
<line class="l" x1="439.77" y1="227.3" x2="440.16" y2="226.46"/>
<line class="l" x1="437.53" y1="224.78" x2="438.1" y2="224.14"/>
<line class="l" x1="435.6" y1="221.91" x2="436.32" y2="221.5"/>
<line class="l" x1="434.07" y1="218.81" x2="434.91" y2="218.63"/>
<line class="l" x1="433.02" y1="215.61" x2="433.94" y2="215.68"/>
<line class="l" x1="432.48" y1="212.45" x2="433.44" y2="212.77"/>
<line class="l" x1="432.48" y1="209.47" x2="433.44" y2="210.03"/>
<line class="l" x1="433.01" y1="206.81" x2="433.93" y2="207.57"/>
<line class="l" x1="434.06" y1="204.57" x2="434.9" y2="205.51"/>
<line class="l" x1="435.58" y1="202.86" x2="436.31" y2="203.93"/>
<line class="l" x1="437.51" y1="201.75" x2="438.08" y2="202.91"/>
<line class="l" x1="439.75" y1="201.29" x2="440.14" y2="202.49"/>
<line class="l" x1="442.21" y1="201.49" x2="442.41" y2="202.68"/>
<line class="l" x1="444.79" y1="202.36" x2="444.79" y2="203.48"/>
<line class="l" x1="447.36" y1="203.85" x2="447.16" y2="204.85"/>
<line class="l" x1="449.83" y1="205.9" x2="449.44" y2="206.74"/>
<line class="l" x1="452.07" y1="208.42" x2="451.5" y2="209.06"/>
<ellipse class="w" cx="444.8" cy="216.6" rx="9.79" ry="15.3" transform="rotate(-30 444.8 216.6)"/>
<line x1="439.44" y1="202.07" x2="443.77" y2="199.57" stroke="#fff" stroke-width=".4"/>
<line x1="442.74" y1="202.32" x2="447.07" y2="199.82" stroke="#fff" stroke-width=".4"/>
<line x1="446.23" y1="203.81" x2="450.56" y2="201.31" stroke="#fff" stroke-width=".4"/>
<line x1="449.59" y1="206.42" x2="453.92" y2="203.92" stroke="#fff" stroke-width=".4"/>
<line x1="452.53" y1="209.91" x2="456.86" y2="207.41" stroke="#fff" stroke-width=".4"/>
<line x1="454.8" y1="214" x2="459.13" y2="211.5" stroke="#fff" stroke-width=".4"/>
<line x1="456.19" y1="218.31" x2="460.52" y2="215.81" stroke="#fff" stroke-width=".4"/>
<line x1="456.59" y1="222.47" x2="460.92" y2="219.97" stroke="#fff" stroke-width=".4"/>
<line x1="455.96" y1="226.12" x2="460.29" y2="223.62" stroke="#fff" stroke-width=".4"/>
<line x1="454.35" y1="228.93" x2="458.68" y2="226.43" stroke="#fff" stroke-width=".4"/>
<ellipse class="k" cx="444.8" cy="216.6" rx="3.29" ry="5.15" transform="rotate(-30 444.8 216.6)"/>
<ellipse class="g" cx="445.2" cy="216.4" rx="1.32" ry="2.06" transform="rotate(-30 445.2 216.4)"/>
<ellipse class="w" cx="452.1" cy="314.35" rx="8.06" ry="12.6" transform="rotate(-30 452.1 314.35)"/>
<path class="w nos" d="M454.5 327.51 L458.4 325.26 L445.8 303.44 L441.9 305.69 Z"/>
<line class="l" x1="454.5" y1="327.51" x2="458.4" y2="325.26"/>
<line class="l" x1="441.9" y1="305.69" x2="445.8" y2="303.44"/>
<ellipse class="w" cx="448.2" cy="316.6" rx="8.06" ry="12.6" transform="rotate(-30 448.2 316.6)"/>
<ellipse class="w" cx="448.2" cy="316.6" rx="6.61" ry="10.33" transform="rotate(-30 448.2 316.6)"/>
<path class="l" d="M455.44 323.47 L454.71 323.6 L453.92 323.6 L453.11 323.49 L452.28 323.25 L451.44 322.9 L450.59 322.44 L449.77 321.87 L448.97 321.2 L448.2 320.45 L447.48 319.61 L446.81 318.71 L446.21 317.76 L445.69 316.76 L445.24 315.73 L444.88 314.69 L444.61 313.65 L444.43 312.62 L444.35 311.62 L444.37 310.66 L444.49 309.76 L444.7 308.92 L445.01 308.16 L445.4 307.48 L445.88 306.91"/>
<ellipse class="w" cx="469.33" cy="304.7" rx="5.93" ry="11.4" transform="rotate(-30 469.33 304.7)"/>
<path class="w nos" d="M470.7 317.07 L475.03 314.57 L463.63 294.83 L459.3 297.33 Z"/>
<line class="l" x1="470.7" y1="317.07" x2="475.03" y2="314.57"/>
<line class="l" x1="459.3" y1="297.33" x2="463.63" y2="294.83"/>
<ellipse class="w" cx="465" cy="307.2" rx="5.93" ry="11.4" transform="rotate(-30 465 307.2)"/>
<ellipse class="t" cx="465" cy="307.2" rx="4.86" ry="9.35" transform="rotate(-30 465 307.2)"/>
<ellipse class="g" cx="465" cy="307.2" rx="3.79" ry="7.3" transform="rotate(-30 465 307.2)"/>
<ellipse class="w" cx="465" cy="307.2" rx="2.73" ry="5.24" transform="rotate(-30 465 307.2)"/>
<path class="t" d="M463.2 303.07 L463.46 302.84 L463.77 302.69 L464.13 302.63 L464.52 302.65 L464.94 302.77 L465.37 302.96 L465.82 303.24 L466.26 303.59 L466.7 304.01 L467.11 304.48 L467.5 305 L467.85 305.56 L468.16 306.15 L468.42 306.75 L468.62 307.34 L468.77 307.93 L468.85 308.49 L468.87 309.01 L468.82 309.49 L468.71 309.91 L468.53 310.26 L468.3 310.53 L468.02 310.73 L467.69 310.84"/>
<path class="t" d="M461.24 299.42 L461.77 299.09 L462.38 298.91 L463.05 298.87 L463.78 298.98 L464.55 299.24 L465.34 299.65 L466.15 300.18 L466.95 300.84 L467.73 301.62 L468.47 302.49 L469.17 303.44 L469.8 304.45 L470.36 305.5 L470.84 306.58 L471.22 307.66 L471.49 308.72 L471.67 309.74 L471.73 310.71 L471.68 311.6 L471.52 312.39 L471.26 313.08 L470.89 313.65 L470.42 314.08 L469.88 314.37"/>
<ellipse class="w" cx="487.24" cy="293.9" rx="4.22" ry="6.6" transform="rotate(-30 487.24 293.9)"/>
<path class="w nos" d="M487.6 301.32 L490.54 299.62 L483.94 288.18 L481 289.88 Z"/>
<line class="l" x1="487.6" y1="301.32" x2="490.54" y2="299.62"/>
<line class="l" x1="481" y1="289.88" x2="483.94" y2="288.18"/>
<ellipse class="w" cx="484.3" cy="295.6" rx="4.22" ry="6.6" transform="rotate(-30 484.3 295.6)"/>
<ellipse class="w" cx="484.3" cy="295.6" rx="2.96" ry="4.62" transform="rotate(-30 484.3 295.6)"/>
<path class="l" d="M488.46 298.15 L488.13 298.2 L487.78 298.2 L487.42 298.15 L487.05 298.05 L486.67 297.89 L486.3 297.68 L485.93 297.43 L485.57 297.13 L485.23 296.79 L484.9 296.42 L484.61 296.02 L484.34 295.59 L484.1 295.14 L483.9 294.68 L483.74 294.22 L483.62 293.75 L483.54 293.29 L483.5 292.85 L483.51 292.42 L483.57 292.01 L483.66 291.64 L483.8 291.3 L483.97 291 L484.19 290.74"/>
<ellipse class="w" cx="504.93" cy="285.5" rx="9.22" ry="14.4" transform="rotate(-30 504.93 285.5)"/>
<ellipse class="w" cx="504.06" cy="286" rx="8.83" ry="13.8" transform="rotate(-30 504.06 286)"/>
<ellipse class="w" cx="503.2" cy="286.5" rx="9.22" ry="14.4" transform="rotate(-30 503.2 286.5)"/>
<ellipse class="w" cx="502.33" cy="287" rx="8.83" ry="13.8" transform="rotate(-30 502.33 287)"/>
<ellipse class="w" cx="501.47" cy="287.5" rx="9.22" ry="14.4" transform="rotate(-30 501.47 287.5)"/>
<ellipse class="w" cx="500.6" cy="288" rx="8.64" ry="13.5" transform="rotate(-30 500.6 288)"/>
<path class="b" d="M492.65 277.24 L493.64 276.44 L494.76 275.89 L496.02 275.59 L497.37 275.55 L498.78 275.78 L500.24 276.27 L501.7 277 L503.14 277.97 L504.53 279.14 L505.83 280.51 L507.03 282.03 L508.08 283.68 L508.98 285.42 L509.7 287.21 L510.23 289.03 L510.56 290.82 L510.68 292.55 L510.58 294.18 L510.27 295.68 L509.76 297.02 L509.06 298.17 L508.17 299.11 L507.13 299.81 L505.95 300.26"/>
<ellipse class="w" cx="500.6" cy="288" rx="7.55" ry="11.8" transform="rotate(-30 500.6 288)"/>
<path class="l" d="M508.62 295.91 L507.78 296.16 L506.88 296.26 L505.93 296.21 L504.95 296 L503.95 295.65 L502.95 295.15 L501.95 294.51 L500.99 293.75 L500.06 292.87 L499.19 291.89 L498.39 290.83 L497.68 289.69 L497.05 288.5 L496.53 287.27 L496.11 286.03 L495.81 284.79 L495.64 283.57 L495.58 282.39 L495.65 281.27 L495.84 280.23 L496.16 279.28 L496.59 278.43 L497.12 277.7 L497.76 277.1"/>
<ellipse class="l" cx="521" cy="275.2" rx="7.04" ry="11" transform="rotate(-30 521 275.2)"/>
<ellipse class="w" cx="540.13" cy="262.5" rx="6.03" ry="11.6" transform="rotate(-30 540.13 262.5)"/>
<path class="w nos" d="M541.6 275.05 L545.93 272.55 L534.33 252.45 L530 254.95 Z"/>
<line class="l" x1="541.6" y1="275.05" x2="545.93" y2="272.55"/>
<line class="l" x1="530" y1="254.95" x2="534.33" y2="252.45"/>
<ellipse class="w" cx="535.8" cy="265" rx="6.03" ry="11.6" transform="rotate(-30 535.8 265)"/>
<ellipse class="t" cx="535.8" cy="265" rx="4.95" ry="9.51" transform="rotate(-30 535.8 265)"/>
<ellipse class="g" cx="535.8" cy="265" rx="3.86" ry="7.42" transform="rotate(-30 535.8 265)"/>
<ellipse class="w" cx="535.8" cy="265" rx="2.77" ry="5.34" transform="rotate(-30 535.8 265)"/>
<path class="t" d="M533.95 260.8 L534.22 260.57 L534.54 260.42 L534.9 260.36 L535.3 260.38 L535.72 260.5 L536.17 260.7 L536.62 260.98 L537.07 261.33 L537.51 261.76 L537.94 262.24 L538.33 262.77 L538.69 263.34 L539 263.94 L539.27 264.55 L539.47 265.15 L539.62 265.75 L539.7 266.32 L539.72 266.85 L539.67 267.34 L539.56 267.76 L539.38 268.12 L539.15 268.4 L538.86 268.6 L538.52 268.72"/>
<path class="t" d="M531.96 257.09 L532.5 256.76 L533.12 256.57 L533.8 256.53 L534.54 256.65 L535.32 256.91 L536.13 257.32 L536.95 257.87 L537.76 258.54 L538.56 259.33 L539.32 260.21 L540.03 261.18 L540.67 262.21 L541.24 263.28 L541.72 264.38 L542.11 265.48 L542.39 266.56 L542.57 267.6 L542.63 268.58 L542.58 269.48 L542.42 270.29 L542.15 270.99 L541.78 271.57 L541.3 272.01 L540.75 272.31"/>
<ellipse class="w" cx="557.3" cy="253.7" rx="7.55" ry="11.8" transform="rotate(-30 557.3 253.7)"/>
<ellipse class="w" cx="557.3" cy="253.7" rx="6.34" ry="9.9" transform="rotate(-30 557.3 253.7)"/>
<ellipse class="w" cx="572" cy="246" rx="7.68" ry="12" transform="rotate(-30 572 246)"/>
<ellipse class="w" cx="572" cy="246" rx="6.4" ry="10" transform="rotate(-30 572 246)"/>
<path class="k" d="M597.01 230.55 L597.92 237.03 L593.68 239.47 L588.53 235.45 L587.62 228.97 L591.86 226.53 Z"/>
<path class="k" d="M594.24 232.15 L595.15 238.62 L590.91 241.07 L585.76 237.05 L584.85 230.57 L589.09 228.12 L597.01 230.55 L597.92 237.03 L593.68 239.47 L588.53 235.45 L587.62 228.97 L591.86 226.53 Z"/>
<path class="g" d="M594.24 232.15 L595.15 238.62 L590.91 241.07 L585.76 237.05 L584.85 230.57 L589.09 228.12 Z"/>
<ellipse class="k" cx="590" cy="234.6" rx="3.36" ry="4.8" transform="rotate(-30 590 234.6)"/>
<ellipse class="g" cx="590" cy="234.6" rx="2.38" ry="3.4" transform="rotate(-30 590 234.6)"/>
<ellipse class="k" cx="590" cy="234.6" rx="1.61" ry="2.3" transform="rotate(-30 590 234.6)"/>
<path class="k" d="M431.3 329.35 L437.19 325.95 L434.59 321.45 L428.7 324.85 Z"/>
<ellipse class="k" cx="435.89" cy="323.7" rx="1.66" ry="2.6" transform="rotate(-30 435.89 323.7)"/>
<path class="k nos" d="M431.3 329.35 L437.19 325.95 L434.59 321.45 L428.7 324.85 Z"/>
<ellipse class="k" cx="430" cy="327.1" rx="1.66" ry="2.6" transform="rotate(-30 430 327.1)"/>
<line class="l" x1="431.3" y1="329.35" x2="437.19" y2="325.95"/>
<line class="l" x1="428.7" y1="324.85" x2="434.59" y2="321.45"/>
<path class="w" d="M418.65 336.74 L431.29 329.44 L428.59 324.76 L415.95 332.06 Z"/>
<ellipse class="w" cx="429.94" cy="327.1" rx="1.73" ry="2.7" transform="rotate(-30 429.94 327.1)"/>
<path class="w nos" d="M418.65 336.74 L431.29 329.44 L428.59 324.76 L415.95 332.06 Z"/>
<ellipse class="w" cx="417.3" cy="334.4" rx="1.73" ry="2.7" transform="rotate(-30 417.3 334.4)"/>
<line class="l" x1="418.65" y1="336.74" x2="431.29" y2="329.44"/>
<line class="l" x1="415.95" y1="332.06" x2="428.59" y2="324.76"/>
<path class="w" d="M409.35 342.88 L418.88 337.38 L414.98 330.62 L405.45 336.12 Z"/>
<ellipse class="w" cx="416.93" cy="334" rx="2.5" ry="3.9" transform="rotate(-30 416.93 334)"/>
<path class="w nos" d="M409.35 342.88 L418.88 337.38 L414.98 330.62 L405.45 336.12 Z"/>
<ellipse class="w" cx="407.4" cy="339.5" rx="2.5" ry="3.9" transform="rotate(-30 407.4 339.5)"/>
<line class="l" x1="409.35" y1="342.88" x2="418.88" y2="337.38"/>
<line class="l" x1="405.45" y1="336.12" x2="414.98" y2="330.62"/>
<line class="t" x1="411.77" y1="342.9" x2="409.41" y2="336"/>
<line class="t" x1="413.5" y1="341.9" x2="411.14" y2="335"/>
<line class="t" x1="415.23" y1="340.9" x2="412.87" y2="334"/>
<line class="t" x1="416.97" y1="339.9" x2="414.6" y2="333"/>
<line class="t" x1="418.7" y1="338.9" x2="416.34" y2="332"/>
<path class="w" d="M394.3 352.28 L409.89 343.28 L405.29 335.32 L389.7 344.32 Z"/>
<ellipse class="w" cx="407.59" cy="339.3" rx="2.94" ry="4.6" transform="rotate(-30 407.59 339.3)"/>
<path class="w nos" d="M394.3 352.28 L409.89 343.28 L405.29 335.32 L389.7 344.32 Z"/>
<ellipse class="w" cx="392" cy="348.3" rx="2.94" ry="4.6" transform="rotate(-30 392 348.3)"/>
<line class="l" x1="394.3" y1="352.28" x2="409.89" y2="343.28"/>
<line class="l" x1="389.7" y1="344.32" x2="405.29" y2="335.32"/>
<path class="w" d="M382.61 341.71 L383.41 340.67 L384.4 339.9 L385.56 339.43 L386.86 339.26 L388.25 339.41 L389.7 339.87 L391.16 340.62 L392.58 341.65 L393.92 342.91 L395.14 344.39 L396.21 346.02 L397.09 347.75 L397.75 349.55 L398.18 351.35 L398.35 353.09 L398.28 354.73 L397.95 356.21 L397.39 357.49 L396.59 358.53 L395.6 359.3 L394.44 359.77 L393.14 359.94 L384.94 359.52 L384.17 359.44 L383.37 359.19 L382.56 358.77 L381.77 358.2 L381.03 357.5 L380.35 356.69 L379.76 355.78 L379.28 354.82 L378.91 353.83 L378.67 352.83 L378.57 351.87 L378.62 350.96 L378.8 350.14 L379.11 349.43 Z"/>
<line class="l" x1="396.67" y1="346.88" x2="386.89" y2="352.29"/>
<path class="k" d="M396.67 346.88 L397.88 347.98 L387.08 352.68 Z"/>
<line class="l" x1="397.99" y1="350.45" x2="387.62" y2="354.27"/>
<path class="k" d="M397.99 350.45 L398.97 351.89 L387.71 354.67 Z"/>
<line class="l" x1="398.35" y1="353.92" x2="387.82" y2="356.19"/>
<path class="k" d="M398.35 353.92 L398.97 355.52 L387.79 356.55 Z"/>
<line class="l" x1="397.7" y1="356.88" x2="387.46" y2="357.83"/>
<path class="k" d="M397.7 356.88 L397.89 358.44 L387.33 358.1 Z"/>
<line class="l" x1="396.12" y1="358.95" x2="386.59" y2="358.98"/>
<path class="k" d="M396.12 358.95 L395.86 360.3 L386.36 359.13 Z"/>
<line class="l" x1="393.8" y1="359.9" x2="385.3" y2="359.5"/>
<path class="k" d="M393.8 359.9 L393.12 360.86 L385.01 359.52 Z"/>
<line class="l" x1="391.03" y1="359.6" x2="383.77" y2="359.34"/>
<path class="k" d="M391.03 359.6 L390.01 360.06 L383.45 359.22 Z"/>
<line class="l" x1="388.13" y1="358.1" x2="382.16" y2="358.5"/>
<path class="k" d="M388.13 358.1 L386.89 358.01 L381.85 358.27 Z"/>
<line class="l" x1="385.45" y1="355.57" x2="380.68" y2="357.11"/>
<path class="k" d="M385.45 355.57 L384.15 354.94 L380.42 356.77 Z"/>
<line class="l" x1="383.33" y1="352.32" x2="379.51" y2="355.31"/>
<path class="k" d="M383.33 352.32 L382.12 351.22 L379.32 354.92 Z"/>
<line class="l" x1="382.01" y1="348.75" x2="378.78" y2="353.33"/>
<path class="k" d="M382.01 348.75 L381.03 347.31 L378.69 352.93 Z"/>
<line class="l" x1="381.65" y1="345.28" x2="378.58" y2="351.41"/>
<path class="k" d="M381.65 345.28 L381.03 343.68 L378.61 351.05 Z"/>
<line class="l" x1="382.3" y1="342.32" x2="378.94" y2="349.77"/>
<path class="k" d="M382.3 342.32 L382.11 340.76 L379.07 349.5 Z"/>
<line class="l" x1="383.88" y1="340.25" x2="379.81" y2="348.62"/>
<path class="k" d="M383.88 340.25 L384.14 338.9 L380.04 348.47 Z"/>
<line class="l" x1="386.2" y1="339.3" x2="381.1" y2="348.1"/>
<path class="k" d="M386.2 339.3 L386.88 338.34 L381.39 348.08 Z"/>
<line class="l" x1="388.97" y1="339.6" x2="382.63" y2="348.26"/>
<path class="k" d="M388.97 339.6 L389.99 339.14 L382.95 348.38 Z"/>
<line class="l" x1="391.87" y1="341.1" x2="384.24" y2="349.1"/>
<path class="k" d="M391.87 341.1 L393.11 341.19 L384.55 349.33 Z"/>
<line class="l" x1="394.55" y1="343.63" x2="385.72" y2="350.49"/>
<path class="k" d="M394.55 343.63 L395.85 344.26 L385.98 350.83 Z"/>
<ellipse class="w" cx="383.2" cy="353.8" rx="3.97" ry="6.2" transform="rotate(-30 383.2 353.8)"/>
<ellipse class="t" cx="383.2" cy="353.8" rx="1.39" ry="2.17" transform="rotate(-30 383.2 353.8)"/>
<path class="w2" d="M348.3 357.4 Q346.8 361.8 347.3 367.8 Q349.8 374.7 353.8 379.7 Q353.8 379.7 356.8 383.2 L362.2 385.2 L363.2 380.7 Q359.3 378.2 355.3 373.7 Q352.8 368.8 352.3 364.8 Q352.3 364.8 353.8 362 L362.8 364.3 L364.3 359.3 L354.8 355.4 Z"/>
<path class="t" d="M349.5 360 L355.4 358.2 L363.9 361.1"/>
<path class="t" d="M355.4 358.2 Q350.2 362.8 349.9 367.8 Q351.4 373.7 357.8 380.8"/>
<path class="t" d="M357.8 380.8 L362.8 381.3"/>
<ellipse class="k" cx="351.1" cy="359.8" rx="1" ry="0.8"/>
<ellipse class="k" cx="359.4" cy="382.6" rx="0.9" ry="1.1"/>
<path class="w2" d="M339.3 361.9 Q337.8 366.3 338.3 372.3 Q340.8 379.2 344.8 384.2 Q344.8 384.2 347.8 387.7 L353.2 389.7 L354.2 385.2 Q350.3 382.7 346.3 378.2 Q343.8 373.3 343.3 369.3 Q343.3 369.3 344.8 366.5 L349.8 367.8 L351.3 362.8 L345.8 359.9 Z"/>
<path class="t" d="M340.5 364.5 L346.4 362.7 L350.9 364.6"/>
<path class="t" d="M346.4 362.7 Q341.2 367.3 340.9 372.3 Q342.4 378.2 348.8 385.3"/>
<path class="t" d="M348.8 385.3 L353.8 385.8"/>
<ellipse class="k" cx="342.1" cy="364.3" rx="1" ry="0.8"/>
<ellipse class="k" cx="350.4" cy="387.1" rx="0.9" ry="1.1"/>
<path class="w2" d="M330.9 366.9 Q329.4 371.3 329.9 377.3 Q332.4 384.2 336.4 389.2 Q336.4 389.2 339.4 392.7 L344.8 394.7 L345.8 390.2 Q341.9 387.7 337.9 383.2 Q335.4 378.3 334.9 374.3 Q334.9 374.3 336.4 371.5 L341.4 372.8 L342.9 367.8 L337.4 364.9 Z"/>
<path class="t" d="M332.1 369.5 L338 367.7 L342.5 369.6"/>
<path class="t" d="M338 367.7 Q332.8 372.3 332.5 377.3 Q334 383.2 340.4 390.3"/>
<path class="t" d="M340.4 390.3 L345.4 390.8"/>
<ellipse class="k" cx="333.7" cy="369.3" rx="1" ry="0.8"/>
<ellipse class="k" cx="342" cy="392.1" rx="0.9" ry="1.1"/>
<path class="w2" d="M324.4 371.4 Q322.9 375.8 323.4 381.8 Q325.9 388.7 329.9 393.7 Q329.9 393.7 332.9 397.2 L338.3 399.2 L339.3 394.7 Q335.4 392.2 331.4 387.7 Q328.9 382.8 328.4 378.8 Q328.4 378.8 329.9 376 L334.9 377.3 L336.4 372.3 L330.9 369.4 Z"/>
<path class="t" d="M325.6 374 L331.5 372.2 L336 374.1"/>
<path class="t" d="M331.5 372.2 Q326.3 376.8 326 381.8 Q327.5 387.7 333.9 394.8"/>
<path class="t" d="M333.9 394.8 L338.9 395.3"/>
<ellipse class="k" cx="327.2" cy="373.8" rx="1" ry="0.8"/>
<ellipse class="k" cx="335.5" cy="396.6" rx="0.9" ry="1.1"/>
<ellipse class="w" cx="342.5" cy="139.7" rx="3.6" ry="1.5"/>
<ellipse class="w" cx="342.5" cy="143.8" rx="3.6" ry="1.5"/>
<path class="w" d="M336.7 120.5 L337.2 126.6 Q337.6 129.8 342.3 130 Q347 129.8 347.4 126.6 L347.9 120.5 Z"/>
<path class="b" d="M336.9 122.6 Q342.3 125.2 347.7 122.6"/>
<ellipse class="w" cx="342.3" cy="118" rx="7.2" ry="4"/>
<path class="t" d="M341.6 130 L341.6 138.4 M343.2 130 L343.2 138.4"/>
<path class="w" d="M336.6 150.8 L336.6 177.5 A5.9 2.2 0 0 0 348.4 177.5 L348.4 150.8 Z"/>
<path class="t" d="M336.6 155 A5.9 2.2 0 0 0 348.4 155"/>
<path class="t" d="M336.6 173 A5.9 2.2 0 0 0 348.4 173"/>
<ellipse class="w" cx="342.5" cy="150.8" rx="5.9" ry="2.2"/>
<ellipse class="l" cx="342.5" cy="150.8" rx="4.2" ry="1.5"/>
<ellipse class="w" cx="342.5" cy="185.6" rx="4.6" ry="2"/>
<ellipse class="l" cx="342.5" cy="185.6" rx="2.6" ry="1.1"/>
<path class="k" d="M211.27 162.72 L216.04 165.25 L217.54 162.42 L212.78 159.89 Z"/>
<ellipse class="k" cx="216.79" cy="163.84" rx="0.96" ry="1.6" transform="rotate(28 216.79 163.84)"/>
<path class="k nos" d="M211.27 162.72 L216.04 165.25 L217.54 162.42 L212.78 159.89 Z"/>
<ellipse class="k" cx="212.03" cy="161.3" rx="0.96" ry="1.6" transform="rotate(28 212.03 161.3)"/>
<line class="l" x1="211.27" y1="162.72" x2="216.04" y2="165.25"/>
<line class="l" x1="212.78" y1="159.89" x2="217.54" y2="162.42"/>
<path class="k" d="M207.89 162.27 L210.71 163.77 L213.34 158.83 L210.51 157.33 Z"/>
<ellipse class="k" cx="212.03" cy="161.3" rx="1.68" ry="2.8" transform="rotate(28 212.03 161.3)"/>
<path class="k nos" d="M207.89 162.27 L210.71 163.77 L213.34 158.83 L210.51 157.33 Z"/>
<ellipse class="k" cx="209.2" cy="159.8" rx="1.68" ry="2.8" transform="rotate(28 209.2 159.8)"/>
<line class="l" x1="207.89" y1="162.27" x2="210.71" y2="163.77"/>
<line class="l" x1="210.51" y1="157.33" x2="213.34" y2="158.83"/>
<path class="t" d="M208.82 162.76 L208.49 162.36 L208.3 161.79 L208.29 161.09 L208.46 160.33 L208.78 159.57 L209.23 158.89 L209.76 158.33 L210.35 157.95 L210.92 157.78 L211.44 157.83"/>
<path class="t" d="M209.88 163.32 L209.54 162.92 L209.36 162.35 L209.35 161.66 L209.52 160.9 L209.84 160.14 L210.28 159.45 L210.82 158.89 L211.41 158.51 L211.98 158.34 L212.5 158.4"/>
<ellipse class="g" cx="209.2" cy="159.8" rx="1.68" ry="2.8" transform="rotate(28 209.2 159.8)"/>
<ellipse class="k" cx="209.2" cy="159.8" rx="0.84" ry="1.4" transform="rotate(28 209.2 159.8)"/>
<path class="w" d="M229.7 171.8 L250.1 161 L251.1 178.4 L230.7 189.1 Z"/>
<path class="w" d="M228.2 171 L248.6 160.2 L249.6 177.6 L229.2 188.3 Z"/>
<path class="t" d="M231.4 173.4 L246.4 165.4 L247 176.4 L232 184.4 Z"/>
<path class="w" d="M233.6 177.3 L244.4 171.5 A1.4 1.8 0 0 1 245.3 174.6 L234.5 180.5 A1.4 1.8 0 0 1 233.6 177.3 Z"/>
<ellipse class="t" cx="230.6" cy="173.2" rx="0.8" ry="1.1"/>
<ellipse class="t" cx="246.7" cy="164.6" rx="0.8" ry="1.1"/>
<ellipse class="t" cx="247.4" cy="175.2" rx="0.8" ry="1.1"/>
<ellipse class="t" cx="231.3" cy="184.2" rx="0.8" ry="1.1"/>
<path class="w" d="M248.2 182.6 L268 172 L269 188 L249.2 198.6 Z"/>
<path class="w" d="M252.5 184.8 L264 178.7 Q265.4 178.3 265.5 179.8 L265.8 184.6 Q265.6 186.6 263.6 187.8 L255.4 192.1 Q252.6 193.2 252.5 190.8 Z"/>
<ellipse class="t" cx="250.2" cy="184.6" rx="0.7" ry="1"/>
<ellipse class="t" cx="266.5" cy="175.7" rx="0.7" ry="1"/>
<ellipse class="t" cx="267.3" cy="186.6" rx="0.7" ry="1"/>
<ellipse class="t" cx="250.9" cy="195.3" rx="0.7" ry="1"/>
<ellipse class="w" cx="277.6" cy="196.6" rx="3.32" ry="7.9" transform="rotate(28 277.6 196.6)"/>
<path class="bb" d="M275.85 203.42 L275.12 203.69 L274.46 203.74 L273.89 203.58 L273.44 203.2 L273.11 202.62 L272.92 201.86 L272.88 200.94 L272.97 199.89 L273.21 198.74 L273.58 197.52 L274.07 196.28 L274.67 195.04 L275.36 193.85 L276.12 192.75 L276.92 191.76 L277.74 190.92 L278.56 190.26 L279.35 189.78 L280.08 189.51 L280.74 189.46 L281.31 189.62 L281.76 190 L282.09 190.58 L282.28 191.34"/>
<path class="b" d="M276.32 204.29 L275.71 204.34 L275.18 204.22 L274.74 203.91 L274.41 203.44 L274.19 202.8 L274.08 202.02 L274.1 201.12 L274.24 200.12 L274.49 199.04 L274.85 197.92 L275.32 196.77 L275.87 195.64 L276.5 194.55 L277.19 193.53 L277.91 192.6 L278.66 191.79 L279.42 191.11 L280.16 190.59 L280.86 190.24 L281.51 190.07 L282.09 190.08 L282.59 190.27 L282.99 190.64 L283.29 191.18"/>
<path class="w" d="M276.5 203.25 L287.97 209.35 L293.98 198.05 L282.5 191.95 Z"/>
<ellipse class="w" cx="279.5" cy="197.6" rx="2.69" ry="6.4" transform="rotate(28 279.5 197.6)"/>
<path class="w nos" d="M276.5 203.25 L287.97 209.35 L293.98 198.05 L282.5 191.95 Z"/>
<ellipse class="w" cx="290.98" cy="203.7" rx="2.69" ry="6.4" transform="rotate(28 290.98 203.7)"/>
<line class="l" x1="276.5" y1="203.25" x2="287.97" y2="209.35"/>
<line class="l" x1="282.5" y1="191.95" x2="293.98" y2="198.05"/>
<ellipse class="t" cx="290.98" cy="203.7" rx="1.94" ry="4.61" transform="rotate(28 290.98 203.7)"/>
<ellipse class="w" cx="483.58" cy="433.15" rx="13.33" ry="21.5" transform="rotate(-30 483.58 433.15)"/>
<ellipse class="w" cx="482.8" cy="433.6" rx="13.33" ry="21.5" transform="rotate(-30 482.8 433.6)"/>
<path class="w" d="M479.8 434 l4.2 -2.2 a1.5 1.9 0 0 1 1.2 3.2 l-4.2 2.2 a1.5 1.9 0 0 1 -1.2 -3.2 Z"/>
<ellipse class="k" cx="470.22" cy="421.5" rx="0.8" ry="1"/>
<ellipse class="k" cx="475.42" cy="416.83" rx="0.8" ry="1"/>
<ellipse class="k" cx="483.28" cy="418.22" rx="0.8" ry="1"/>
<ellipse class="k" cx="490.98" cy="425.17" rx="0.8" ry="1"/>
<ellipse class="k" cx="495.71" cy="435.17" rx="0.8" ry="1"/>
<ellipse class="k" cx="495.78" cy="444.61" rx="0.8" ry="1"/>
<ellipse class="k" cx="493.91" cy="448.08" rx="0.8" ry="1"/>
<ellipse class="k" cx="491.15" cy="450.06" rx="0.8" ry="1"/>
<ellipse class="k" cx="483.5" cy="449.56" rx="0.8" ry="1"/>
<ellipse class="k" cx="475.6" cy="443.29" rx="0.8" ry="1"/>
<ellipse class="k" cx="470.3" cy="433.51" rx="0.8" ry="1"/>
<path class="k" d="M527.1 415.4 L540.52 407.65 L535.32 398.65 L521.9 406.4 Z"/>
<ellipse class="k" cx="537.92" cy="403.15" rx="3.33" ry="5.2" transform="rotate(-30 537.92 403.15)"/>
<path class="k nos" d="M527.1 415.4 L540.52 407.65 L535.32 398.65 L521.9 406.4 Z"/>
<ellipse class="k" cx="524.5" cy="410.9" rx="3.33" ry="5.2" transform="rotate(-30 524.5 410.9)"/>
<line class="l" x1="527.1" y1="415.4" x2="540.52" y2="407.65"/>
<line class="l" x1="521.9" y1="406.4" x2="535.32" y2="398.65"/>
<ellipse class="k" cx="537.92" cy="403.15" rx="3.33" ry="5.2" transform="rotate(-30 537.92 403.15)"/>
<path class="w" d="M520.75 423.43 L527.25 419.68 L517.75 403.22 L511.25 406.97 Z"/>
<ellipse class="w" cx="522.5" cy="411.45" rx="6.08" ry="9.5" transform="rotate(-30 522.5 411.45)"/>
<path class="w nos" d="M520.75 423.43 L527.25 419.68 L517.75 403.22 L511.25 406.97 Z"/>
<ellipse class="w" cx="516" cy="415.2" rx="6.08" ry="9.5" transform="rotate(-30 516 415.2)"/>
<line class="l" x1="520.75" y1="423.43" x2="527.25" y2="419.68"/>
<line class="l" x1="511.25" y1="406.97" x2="517.75" y2="403.22"/>
<ellipse class="w" cx="513.75" cy="416.5" rx="15.23" ry="23.8" transform="rotate(-30 513.75 416.5)"/>
<path class="w nos" d="M523.4 438.41 L525.65 437.11 L501.85 395.89 L499.6 397.19 Z"/>
<ellipse class="w" cx="511.5" cy="417.8" rx="15.23" ry="23.8" transform="rotate(-30 511.5 417.8)"/>
<ellipse class="t" cx="511.5" cy="417.8" rx="14.34" ry="22.4" transform="rotate(-30 511.5 417.8)"/>
<ellipse class="k" cx="524.03" cy="414.54" rx="0.9" ry="1.25"/>
<ellipse class="k" cx="526.24" cy="425.73" rx="0.9" ry="1.25"/>
<ellipse class="k" cx="522.83" cy="433.9" rx="0.9" ry="1.25"/>
<ellipse class="k" cx="515.09" cy="435.91" rx="0.9" ry="1.25"/>
<ellipse class="k" cx="505.98" cy="431.01" rx="0.9" ry="1.25"/>
<ellipse class="k" cx="498.97" cy="421.06" rx="0.9" ry="1.25"/>
<ellipse class="k" cx="496.76" cy="409.87" rx="0.9" ry="1.25"/>
<ellipse class="k" cx="500.17" cy="401.7" rx="0.9" ry="1.25"/>
<ellipse class="k" cx="507.91" cy="399.69" rx="0.9" ry="1.25"/>
<ellipse class="k" cx="517.02" cy="404.59" rx="0.9" ry="1.25"/>
<ellipse class="w" cx="513" cy="417" rx="9.28" ry="14.5" transform="rotate(-30 513 417)"/>
<path class="g" d="M503.62 406.49 L508.77 411.7 L511.63 409.49 L506.94 403.92 Z"/>
<path class="g" d="M522.37 415.07 L518.35 414.34 L519.58 419.51 L523.8 421.07 Z"/>
<path class="g" d="M513.01 429.44 L514.88 423.15 L510.79 420.2 L508.26 426.01 Z"/>
<ellipse class="w" cx="514.5" cy="416.1" rx="5.5" ry="8.6" transform="rotate(-30 514.5 416.1)"/>
<ellipse class="k" cx="514.9" cy="415.9" rx="4.61" ry="7.2" transform="rotate(-30 514.9 415.9)"/>
<ellipse class="w" cx="515.5" cy="415.6" rx="3.58" ry="5.6" transform="rotate(-30 515.5 415.6)"/>
<ellipse class="g" cx="516.1" cy="415.2" rx="2.69" ry="4.2" transform="rotate(-30 516.1 415.2)"/>
<path class="t" d="M512.64 410.17 L513.21 410.08 L513.81 410.1 L514.43 410.23 L515.07 410.47 L515.71 410.81 L516.33 411.24 L516.94 411.76 L517.5 412.36 L518.02 413.02 L518.49 413.74 L518.89 414.49 L519.22 415.27 L519.47 416.06 L519.64 416.85 L519.72 417.61 L519.71 418.34 L519.62 419.03 L519.44 419.65 L519.17 420.19 L518.83 420.66 L518.42 421.03 L517.94 421.3 L517.41 421.47 L516.84 421.52"/>
<path class="t" d="M513.24 411.53 L513.67 411.46 L514.12 411.48 L514.59 411.58 L515.08 411.76 L515.56 412.02 L516.03 412.34 L516.49 412.74 L516.92 413.19 L517.32 413.69 L517.67 414.24 L517.97 414.81 L518.22 415.4 L518.41 416 L518.54 416.59 L518.6 417.17 L518.6 417.73 L518.52 418.25 L518.39 418.72 L518.19 419.13 L517.93 419.48 L517.62 419.76 L517.25 419.97 L516.85 420.09 L516.42 420.14"/>
<path class="w" d="M550.3 341.5 L580.6 324.2 L581.6 340.4 L551 357.4 Z"/>
<path class="w" d="M551.5 341.7 L581.8 324.4 L582.8 340.6 L552.2 357.6 Z"/>
<path class="l" d="M552.2 357.6 L557.4 357 L566.4 362"/>
<path class="w" d="M559.2 347.2 L568.6 338.6 Q570.2 338.2 570 340 L560.6 349.2 Q558.8 349.4 559.2 347.2 Z"/>
<path class="w" d="M575 331.6 L578.4 328.4 Q579.6 328.4 579.2 329.8 L576.4 334.4 Z"/>
<path class="l" d="M568.6 338.6 L571.4 334.4"/>
<ellipse class="t" cx="553.8" cy="341.8" rx="0.8" ry="1.05"/>
<ellipse class="t" cx="553.8" cy="354" rx="0.8" ry="1.05"/>
<ellipse class="t" cx="557.2" cy="356.2" rx="0.8" ry="1.05"/>
<ellipse class="t" cx="566.6" cy="346" rx="0.8" ry="1.05"/>
<ellipse class="t" cx="571.8" cy="346" rx="0.8" ry="1.05"/>
<ellipse class="t" cx="574.6" cy="341" rx="0.8" ry="1.05"/>
<ellipse class="t" cx="580.4" cy="326" rx="0.8" ry="1.05"/>
<ellipse class="k" cx="568.2" cy="333.2" rx="1.5" ry="1.9"/>
<path class="w" d="M581.6 372 q0.2 3.6 2.8 3.4 q2.6 -0.4 2.6 -4.4"/>
<ellipse class="k" cx="584.4" cy="373.2" rx="1" ry="1.2"/>
<path class="w" d="M597.6 363.2 q0.2 3.6 2.8 3.4 q2.6 -0.4 2.6 -4.4"/>
<ellipse class="k" cx="600.4" cy="364.4" rx="1" ry="1.2"/>
<path class="w" d="M566.4 363.4 L566.4 373.5 L570.3 376.4 L576 375.6 L615.8 353.7 L616.5 347.5 L612.9 343.2 L608.5 338.1 L604.2 336.4 L578.9 351.8 L575.3 353.3 L573.9 358.3 Z"/>
<path class="l" d="M566.4 363.4 L576 362.7 L576 375.6"/>
<path class="l" d="M576 362.7 L614.3 343.9"/>
<path class="t" d="M578.9 356.9 L608.5 341.7"/>
<path class="t" d="M576 368.6 L615.4 348.4"/>
<path class="w" d="M591.2 344.6 L603.5 336.7 L608.5 338.8 L595.5 347.5 Z"/>
<path class="t" d="M593 345.4 L605.4 337.6"/>
<path class="l" d="M575.3 353.3 Q575.8 350.6 578.9 351.8 L580.4 356.2 L577 358.6"/>
<path class="t" d="M580.6 351 L580.9 355.6 M586 348 L586.2 352.4"/>
<path class="l" d="M583.4 349.4 q0.4 -2.2 2.4 -2.4 q1.8 0.2 1.6 2.0 l0.1 3.0"/>
<ellipse class="k" cx="570.9" cy="369.6" rx="2.7" ry="3.5" transform="rotate(-10 570.9 369.6)"/>
<ellipse class="g" cx="571.2" cy="369.4" rx="1.3" ry="1.9" transform="rotate(-10 571.2 369.4)"/>
<ellipse class="k" cx="567.9" cy="365.6" rx="0.7" ry="0.9"/>
<ellipse class="k" cx="430.2" cy="240.6" rx="1.5" ry="1.8"/>
<ellipse class="k" cx="398.8" cy="257.8" rx="1.4" ry="1.7"/>
<ellipse class="k" cx="392.4" cy="304.4" rx="1.7" ry="2.3"/>
<circle class="k" cx="516.2" cy="393.6" r="1.7"/>
<path class="k" d="M522.07 389.25 L528.92 386.2 L527.98 384.1 L521.13 387.15 Z"/>
<ellipse class="k" cx="528.45" cy="385.15" rx="0.69" ry="1.15" transform="rotate(-24 528.45 385.15)"/>
<path class="k nos" d="M522.07 389.25 L528.92 386.2 L527.98 384.1 L521.13 387.15 Z"/>
<ellipse class="k" cx="521.6" cy="388.2" rx="0.69" ry="1.15" transform="rotate(-24 521.6 388.2)"/>
<line class="l" x1="522.07" y1="389.25" x2="528.92" y2="386.2"/>
<line class="l" x1="521.13" y1="387.15" x2="527.98" y2="384.1"/>
<ellipse class="w" cx="529.6" cy="384.8" rx="1.5" ry="1.9"/>
<path class="k" d="M548.76 414.56 L541.7 418.31 L542.73 420.25 L549.8 416.5 Z"/>
<ellipse class="k" cx="542.22" cy="419.28" rx="0.66" ry="1.1" transform="rotate(152 542.22 419.28)"/>
<path class="k nos" d="M548.76 414.56 L541.7 418.31 L542.73 420.25 L549.8 416.5 Z"/>
<ellipse class="k" cx="549.28" cy="415.53" rx="0.66" ry="1.1" transform="rotate(152 549.28 415.53)"/>
<line class="l" x1="548.76" y1="414.56" x2="541.7" y2="418.31"/>
<line class="l" x1="549.8" y1="416.5" x2="542.73" y2="420.25"/>
<path class="w" d="M550.51 412.72 L548.39 413.85 L550.17 417.2 L552.29 416.08 Z"/>
<ellipse class="w" cx="549.28" cy="415.53" rx="1.14" ry="1.9" transform="rotate(152 549.28 415.53)"/>
<path class="w nos" d="M550.51 412.72 L548.39 413.85 L550.17 417.2 L552.29 416.08 Z"/>
<ellipse class="w" cx="551.4" cy="414.4" rx="1.14" ry="1.9" transform="rotate(152 551.4 414.4)"/>
<line class="l" x1="550.51" y1="412.72" x2="548.39" y2="413.85"/>
<line class="l" x1="552.29" y1="416.08" x2="550.17" y2="417.2"/>
<path class="t" d="M549.54 413.25 L549.89 413.21 L550.28 413.32 L550.68 413.58 L551.04 413.96 L551.35 414.43 L551.56 414.94 L551.67 415.46 L551.67 415.93 L551.54 416.32 L551.32 416.59"/>
<path class="t" d="M548.48 413.81 L548.83 413.77 L549.22 413.89 L549.62 414.14 L549.98 414.52 L550.29 414.99 L550.5 415.51 L550.61 416.02 L550.61 416.49 L550.49 416.88 L550.26 417.15"/>
<ellipse class="w" cx="551.4" cy="414.4" rx="1.14" ry="1.9" transform="rotate(152 551.4 414.4)"/>
<ellipse class="k" cx="551.4" cy="414.4" rx="0.57" ry="0.95" transform="rotate(152 551.4 414.4)"/>
<ellipse class="k" cx="536.3" cy="425.6" rx="2" ry="2.4"/>
<path class="k" d="M642.35 373.59 L635.36 369.71 L633.95 372.24 L640.95 376.12 Z"/>
<ellipse class="k" cx="634.65" cy="370.98" rx="0.87" ry="1.45" transform="rotate(209 634.65 370.98)"/>
<path class="k nos" d="M642.35 373.59 L635.36 369.71 L633.95 372.24 L640.95 376.12 Z"/>
<ellipse class="k" cx="641.65" cy="374.85" rx="0.87" ry="1.45" transform="rotate(209 641.65 374.85)"/>
<line class="l" x1="642.35" y1="373.59" x2="635.36" y2="369.71"/>
<line class="l" x1="640.95" y1="376.12" x2="633.95" y2="372.24"/>
<path class="w" d="M645.92 374.59 L642.77 372.84 L640.54 376.87 L643.68 378.61 Z"/>
<ellipse class="w" cx="641.65" cy="374.85" rx="1.38" ry="2.3" transform="rotate(209 641.65 374.85)"/>
<path class="w nos" d="M645.92 374.59 L642.77 372.84 L640.54 376.87 L643.68 378.61 Z"/>
<ellipse class="w" cx="644.8" cy="376.6" rx="1.38" ry="2.3" transform="rotate(209 644.8 376.6)"/>
<line class="l" x1="645.92" y1="374.59" x2="642.77" y2="372.84"/>
<line class="l" x1="643.68" y1="378.61" x2="640.54" y2="376.87"/>
<path class="t" d="M644.97 374.07 L645.24 374.4 L645.38 374.88 L645.37 375.45 L645.23 376.07 L644.96 376.69 L644.58 377.25 L644.13 377.7 L643.64 378 L643.17 378.13 L642.74 378.08"/>
<path class="t" d="M643.92 373.49 L644.19 373.82 L644.33 374.29 L644.33 374.87 L644.18 375.49 L643.91 376.11 L643.53 376.66 L643.08 377.12 L642.59 377.42 L642.12 377.55 L641.7 377.5"/>
<ellipse class="w" cx="644.8" cy="376.6" rx="1.38" ry="2.3" transform="rotate(209 644.8 376.6)"/>
<ellipse class="k" cx="644.8" cy="376.6" rx="0.69" ry="1.15" transform="rotate(209 644.8 376.6)"/>
<path class="k" d="M617.55 388.59 L604.44 381.31 L603.03 383.85 L616.15 391.12 Z"/>
<ellipse class="k" cx="603.73" cy="382.58" rx="0.87" ry="1.45" transform="rotate(209 603.73 382.58)"/>
<path class="k nos" d="M617.55 388.59 L604.44 381.31 L603.03 383.85 L616.15 391.12 Z"/>
<ellipse class="k" cx="616.85" cy="389.85" rx="0.87" ry="1.45" transform="rotate(209 616.85 389.85)"/>
<line class="l" x1="617.55" y1="388.59" x2="604.44" y2="381.31"/>
<line class="l" x1="616.15" y1="391.12" x2="603.03" y2="383.85"/>
<path class="w" d="M621.12 389.59 L617.97 387.84 L615.74 391.87 L618.88 393.61 Z"/>
<ellipse class="w" cx="616.85" cy="389.85" rx="1.38" ry="2.3" transform="rotate(209 616.85 389.85)"/>
<path class="w nos" d="M621.12 389.59 L617.97 387.84 L615.74 391.87 L618.88 393.61 Z"/>
<ellipse class="w" cx="620" cy="391.6" rx="1.38" ry="2.3" transform="rotate(209 620 391.6)"/>
<line class="l" x1="621.12" y1="389.59" x2="617.97" y2="387.84"/>
<line class="l" x1="618.88" y1="393.61" x2="615.74" y2="391.87"/>
<path class="t" d="M620.17 389.07 L620.44 389.4 L620.58 389.88 L620.57 390.45 L620.43 391.07 L620.16 391.69 L619.78 392.25 L619.33 392.7 L618.84 393 L618.37 393.13 L617.94 393.08"/>
<path class="t" d="M619.12 388.49 L619.39 388.82 L619.53 389.29 L619.53 389.87 L619.38 390.49 L619.11 391.11 L618.73 391.66 L618.28 392.12 L617.79 392.42 L617.32 392.55 L616.9 392.5"/>
<ellipse class="w" cx="620" cy="391.6" rx="1.38" ry="2.3" transform="rotate(209 620 391.6)"/>
<ellipse class="k" cx="620" cy="391.6" rx="0.69" ry="1.15" transform="rotate(209 620 391.6)"/>
<path class="k" d="M318.13 407.79 L323.32 405.69 L322.2 402.91 L317.01 405.01 Z"/>
<ellipse class="k" cx="322.76" cy="404.3" rx="0.9" ry="1.5" transform="rotate(-22 322.76 404.3)"/>
<path class="k nos" d="M318.13 407.79 L323.32 405.69 L322.2 402.91 L317.01 405.01 Z"/>
<ellipse class="k" cx="317.57" cy="406.4" rx="0.9" ry="1.5" transform="rotate(-22 317.57 406.4)"/>
<line class="l" x1="318.13" y1="407.79" x2="323.32" y2="405.69"/>
<line class="l" x1="317.01" y1="405.01" x2="322.2" y2="402.91"/>
<path class="w" d="M315.5 409.83 L318.47 408.63 L316.67 404.18 L313.7 405.37 Z"/>
<ellipse class="w" cx="317.57" cy="406.4" rx="1.44" ry="2.4" transform="rotate(-22 317.57 406.4)"/>
<path class="w nos" d="M315.5 409.83 L318.47 408.63 L316.67 404.18 L313.7 405.37 Z"/>
<ellipse class="w" cx="314.6" cy="407.6" rx="1.44" ry="2.4" transform="rotate(-22 314.6 407.6)"/>
<line class="l" x1="315.5" y1="409.83" x2="318.47" y2="408.63"/>
<line class="l" x1="313.7" y1="405.37" x2="316.67" y2="404.18"/>
<path class="t" d="M316.49 409.41 L316.05 409.42 L315.57 409.22 L315.11 408.84 L314.7 408.32 L314.38 407.69 L314.17 407.02 L314.1 406.35 L314.17 405.76 L314.38 405.29 L314.7 404.98"/>
<path class="t" d="M317.6 408.96 L317.16 408.97 L316.68 408.77 L316.22 408.39 L315.81 407.87 L315.49 407.24 L315.29 406.57 L315.22 405.9 L315.29 405.31 L315.49 404.84 L315.81 404.53"/>
<ellipse class="w" cx="314.6" cy="407.6" rx="1.44" ry="2.4" transform="rotate(-22 314.6 407.6)"/>
<ellipse class="k" cx="314.6" cy="407.6" rx="0.72" ry="1.2" transform="rotate(-22 314.6 407.6)"/>
<line class="d" x1="402.2" y1="239.4" x2="632.5" y2="367.6"/>
<line class="t" x1="512" y1="417.4" x2="458.7" y2="446.6"/>
<line class="t" x1="217.5" y1="163.4" x2="273.6" y2="193.3"/>
<line class="t" x1="296" y1="205.2" x2="312" y2="213.7"/>
<line class="l" x1="399" y1="45.5" x2="415.5" y2="55"/>
<line class="l" x1="322" y1="115.5" x2="337" y2="124"/>
<line class="l" x1="323" y1="153" x2="336.5" y2="161"/>
<line class="l" x1="190.7" y1="172.5" x2="208" y2="163"/>
<line class="l" x1="208" y1="193" x2="228" y2="182"/>
<line class="l" x1="229.5" y1="201" x2="249" y2="191"/>
<line class="l" x1="255.7" y1="215.5" x2="274.5" y2="203"/>
<line class="l" x1="305.7" y1="187.5" x2="323" y2="197.5"/>
<line class="l" x1="497.5" y1="93.7" x2="513.7" y2="105"/>
<line class="l" x1="476" y1="110" x2="495" y2="122.5"/>
<line class="l" x1="452.5" y1="118" x2="468" y2="129.5"/>
<line class="l" x1="418.7" y1="138.7" x2="435.5" y2="149.5"/>
<line class="l" x1="401" y1="153.7" x2="417.5" y2="164.5"/>
<line class="l" x1="465" y1="173.7" x2="481" y2="185"/>
<line class="l" x1="446" y1="187.5" x2="465" y2="198.7"/>
<line class="l" x1="422.5" y1="192.5" x2="438.7" y2="203.7"/>
<line class="l" x1="416.3" y1="247.5" x2="428" y2="241"/>
<line class="l" x1="390.5" y1="268.6" x2="398.7" y2="258"/>
<line class="l" x1="408" y1="295.6" x2="394" y2="303.8"/>
<line class="l" x1="596" y1="239.5" x2="612.5" y2="250"/>
<line class="l" x1="578.7" y1="253.7" x2="595" y2="265.5"/>
<line class="l" x1="563.7" y1="262.5" x2="580" y2="274.2"/>
<line class="l" x1="545" y1="273.7" x2="562.5" y2="283.7"/>
<line class="l" x1="527.5" y1="285" x2="545" y2="295"/>
<line class="l" x1="512" y1="298.2" x2="530" y2="309.2"/>
<line class="l" x1="488.7" y1="301.2" x2="502.5" y2="310"/>
<line class="l" x1="474.5" y1="315.5" x2="491.2" y2="325"/>
<line class="l" x1="455.4" y1="327.5" x2="471.3" y2="336.9"/>
<line class="l" x1="405" y1="351.2" x2="418.7" y2="362"/>
<line class="l" x1="310" y1="368" x2="323.7" y2="376.2"/>
<line class="l" x1="302" y1="395" x2="316.2" y2="403"/>
<line class="l" x1="380" y1="388.7" x2="363.7" y2="378.7"/>
<line class="l" x1="374" y1="397.5" x2="355" y2="386"/>
<line class="l" x1="362.5" y1="403.7" x2="345" y2="393.7"/>
<line class="l" x1="593.7" y1="325" x2="582.5" y2="331.2"/>
<line class="l" x1="618.2" y1="332" x2="607.5" y2="338"/>
<line class="l" x1="650" y1="365.5" x2="640" y2="371.2"/>
<line class="l" x1="604.2" y1="397.5" x2="615" y2="391.2"/>
<line class="l" x1="516" y1="372.5" x2="527.5" y2="383.7"/>
<line class="l" x1="502" y1="380" x2="515" y2="392"/>
<line class="l" x1="550" y1="418.7" x2="562.5" y2="431.2"/>
<line class="l" x1="536.2" y1="426.2" x2="550" y2="441.2"/>
<line class="l" x1="517.5" y1="440" x2="530.5" y2="452.5"/>
<line class="l" x1="493.7" y1="452" x2="506.2" y2="464.5"/>
<text class="n" x="393" y="48.5">2</text>
<text class="n" x="313.7" y="119">35</text>
<text class="n" x="315.7" y="156.2">36</text>
<text class="n" x="184.5" y="179.5">16</text>
<text class="n" x="205.7" y="202.5">27</text>
<text class="n" x="225" y="210.5">26</text>
<text class="n" x="251.5" y="225.2">20</text>
<text class="n" x="302.5" y="191.2">1</text>
<text class="n" x="490" y="95.7">24</text>
<text class="n" x="469.2" y="111.5">22</text>
<text class="n" x="445.5" y="119.5">23</text>
<text class="n" x="412" y="140">18</text>
<text class="n" x="393.7" y="157.5">19</text>
<text class="n" x="459" y="176.2">24</text>
<text class="n" x="439.5" y="189.5">22</text>
<text class="n" x="415.5" y="195.2">21</text>
<text class="n" x="413.5" y="261.5">28</text>
<text class="n" x="385.8" y="279">41</text>
<text class="n" x="416.3" y="295.9">25</text>
<text class="n" x="617" y="257.5">7</text>
<text class="n" x="602.5" y="277">40</text>
<text class="n" x="583.7" y="285.7">6</text>
<text class="n" x="567" y="293.7">4</text>
<text class="n" x="549.2" y="304.5">9</text>
<text class="n" x="534.2" y="317">8</text>
<text class="n" x="506.7" y="318.7">5</text>
<text class="n" x="497.5" y="332.7">10</text>
<text class="n" x="477" y="347.7">11</text>
<text class="n" x="422" y="370">3</text>
<text class="n" x="303.7" y="371.2">17</text>
<text class="n" x="295" y="397">15</text>
<text class="n" x="387" y="395.7">14</text>
<text class="n" x="378" y="405.7">13</text>
<text class="n" x="366.2" y="412">12</text>
<text class="n" x="601.2" y="328.2">38</text>
<text class="n" x="625" y="335">34</text>
<text class="n" x="656.2" y="369">39</text>
<text class="n" x="597.5" y="405.7">37</text>
<text class="n" x="514.5" y="369">32</text>
<text class="n" x="495.5" y="379.5">31</text>
<text class="n" x="568.7" y="440">33</text>
<text class="n" x="555" y="451.5">16</text>
<text class="n" x="535.5" y="461.5">30</text>
<text class="n" x="511.7" y="473.7">29</text>
<line class="r" x1="496.7" y1="186.3" x2="534.5" y2="172.3"/>
<path class="rf" d="M496.7 186.3 L505.5 185.6 L503.84 181.1 Z"/>
<path class="rf" d="M534.5 172.3 L525.7 173 L527.36 177.5 Z"/>
<text class="rt" transform="translate(532.4 176.8) scale(1 1.05)" x="0" y="0">Vòng Bi 6207</text>
</svg>
</body>
</html>
